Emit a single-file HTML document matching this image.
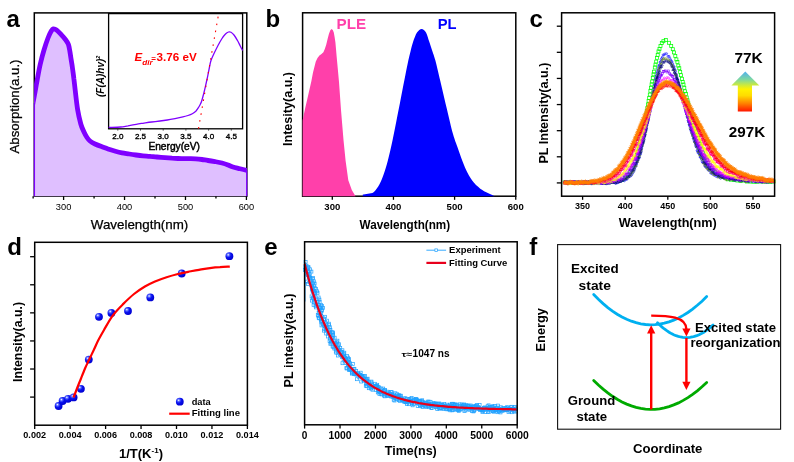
<!DOCTYPE html>
<html><head><meta charset="utf-8"><title>Figure</title><style>html,body{margin:0;padding:0;background:#fff}svg{display:block}</style></head><body>
<svg width="794" height="462" viewBox="0 0 794 462" font-family="&quot;Liberation Sans&quot;, sans-serif">
<rect width="794" height="462" fill="#fff"/>
<defs>
<linearGradient id="ag" x1="0" y1="0" x2="0" y2="1"><stop offset="0" stop-color="#50b0f0"/><stop offset="0.2" stop-color="#7fd8a0"/><stop offset="0.34" stop-color="#cdea3c"/><stop offset="0.44" stop-color="#fff200"/><stop offset="0.6" stop-color="#ffdc00"/><stop offset="0.8" stop-color="#ff8000"/><stop offset="1" stop-color="#ff1400"/></linearGradient>
<radialGradient id="ball" cx="0.35" cy="0.32" r="0.7"><stop offset="0" stop-color="#fff"/><stop offset="0.22" stop-color="#5a6cff"/><stop offset="0.5" stop-color="#0a12f0"/><stop offset="1" stop-color="#0000d0"/></radialGradient>
</defs>
<rect x="34.3" y="12.9" width="212.5" height="183.29999999999998" fill="none" stroke="#000" stroke-width="1.5"/>
<clipPath id="ca"><rect x="34.099999999999994" y="12.9" width="212.9" height="183.39999999999998"/></clipPath>
<g clip-path="url(#ca)"><path d="M30.5,116.0C31.1,112.7 33.2,101.8 34.3,96.0C35.4,90.2 36.0,86.3 37.0,81.0C38.0,75.7 39.1,69.2 40.3,64.0C41.5,58.8 42.7,54.3 44.0,50.0C45.3,45.7 46.8,41.1 48.0,38.0C49.2,34.9 50.1,33.0 51.0,31.5C51.9,30.0 52.2,29.1 53.2,28.9C54.2,28.7 55.5,29.2 56.8,30.2C58.1,31.1 59.8,33.1 61.2,34.6C62.6,36.1 64.0,37.6 65.2,39.2C66.4,40.8 67.5,42.2 68.3,44.2C69.1,46.2 69.4,48.8 69.9,51.5C70.4,54.2 70.8,57.6 71.3,60.5C71.8,63.4 72.2,65.9 72.6,69.0C73.0,72.1 73.5,75.3 73.9,79.0C74.4,82.7 74.7,85.8 75.3,91.0C75.9,96.2 76.8,104.5 77.7,110.0C78.6,115.5 79.8,120.3 80.8,124.0C81.8,127.7 83.0,129.8 84.0,132.0C85.0,134.2 86.0,136.0 87.0,137.5C88.0,139.0 88.7,139.9 90.0,141.0C91.3,142.1 93.1,143.1 95.0,144.0C96.9,144.9 99.3,145.8 101.5,146.6C103.7,147.4 105.7,148.2 108.0,149.0C110.3,149.8 113.1,150.6 115.4,151.2C117.7,151.8 119.7,152.3 122.0,152.8C124.3,153.3 127.0,153.6 129.3,154.0C131.6,154.4 133.7,154.7 136.0,155.0C138.3,155.3 140.7,155.6 143.0,155.8C145.3,156.0 147.7,156.1 150.0,156.3C152.3,156.5 154.5,156.8 157.0,157.0C159.5,157.2 162.5,157.4 165.0,157.6C167.5,157.8 169.8,158.0 172.0,158.2C174.2,158.3 175.7,158.4 178.0,158.5C180.3,158.6 183.1,158.5 186.0,158.6C188.9,158.7 193.0,158.7 195.7,158.8C198.4,159.0 199.9,159.2 202.0,159.5C204.1,159.8 205.8,160.2 208.0,160.5C210.2,160.8 212.7,161.2 215.0,161.6C217.3,162.0 219.8,162.4 222.0,163.0C224.2,163.6 226.2,164.3 228.0,165.0C229.8,165.7 231.0,166.4 233.0,167.0C235.0,167.6 237.7,168.2 240.0,168.8C242.3,169.4 245.7,170.1 246.8,170.3 L247.8,197.2 L30.299999999999997,197.2 Z" fill="#dfbfff"/>
<path d="M30.5,116.0C31.1,112.7 33.2,101.8 34.3,96.0C35.4,90.2 36.0,86.3 37.0,81.0C38.0,75.7 39.1,69.2 40.3,64.0C41.5,58.8 42.7,54.3 44.0,50.0C45.3,45.7 46.8,41.1 48.0,38.0C49.2,34.9 50.1,33.0 51.0,31.5C51.9,30.0 52.2,29.1 53.2,28.9C54.2,28.7 55.5,29.2 56.8,30.2C58.1,31.1 59.8,33.1 61.2,34.6C62.6,36.1 64.0,37.6 65.2,39.2C66.4,40.8 67.5,42.2 68.3,44.2C69.1,46.2 69.4,48.8 69.9,51.5C70.4,54.2 70.8,57.6 71.3,60.5C71.8,63.4 72.2,65.9 72.6,69.0C73.0,72.1 73.5,75.3 73.9,79.0C74.4,82.7 74.7,85.8 75.3,91.0C75.9,96.2 76.8,104.5 77.7,110.0C78.6,115.5 79.8,120.3 80.8,124.0C81.8,127.7 83.0,129.8 84.0,132.0C85.0,134.2 86.0,136.0 87.0,137.5C88.0,139.0 88.7,139.9 90.0,141.0C91.3,142.1 93.1,143.1 95.0,144.0C96.9,144.9 99.3,145.8 101.5,146.6C103.7,147.4 105.7,148.2 108.0,149.0C110.3,149.8 113.1,150.6 115.4,151.2C117.7,151.8 119.7,152.3 122.0,152.8C124.3,153.3 127.0,153.6 129.3,154.0C131.6,154.4 133.7,154.7 136.0,155.0C138.3,155.3 140.7,155.6 143.0,155.8C145.3,156.0 147.7,156.1 150.0,156.3C152.3,156.5 154.5,156.8 157.0,157.0C159.5,157.2 162.5,157.4 165.0,157.6C167.5,157.8 169.8,158.0 172.0,158.2C174.2,158.3 175.7,158.4 178.0,158.5C180.3,158.6 183.1,158.5 186.0,158.6C188.9,158.7 193.0,158.7 195.7,158.8C198.4,159.0 199.9,159.2 202.0,159.5C204.1,159.8 205.8,160.2 208.0,160.5C210.2,160.8 212.7,161.2 215.0,161.6C217.3,162.0 219.8,162.4 222.0,163.0C224.2,163.6 226.2,164.3 228.0,165.0C229.8,165.7 231.0,166.4 233.0,167.0C235.0,167.6 237.7,168.2 240.0,168.8C242.3,169.4 245.7,170.1 246.8,170.3" fill="none" stroke="#7f00ff" stroke-width="4.8" stroke-linejoin="round"/></g>
<line x1="34.4" y1="103" x2="34.4" y2="196.2" stroke="#7f00ff" stroke-width="1.3" />
<line x1="246.70000000000002" y1="170" x2="246.70000000000002" y2="196.2" stroke="#7f00ff" stroke-width="1.3" />
<line x1="33.129999999999995" y1="196.2" x2="33.129999999999995" y2="198.39999999999998" stroke="#000" stroke-width="1.3" />
<line x1="63.6" y1="196.2" x2="63.6" y2="200.0" stroke="#000" stroke-width="1.3" />
<text x="63.6" y="209.6" font-size="9.5" font-weight="normal" text-anchor="middle" fill="#000" textLength="15.5" lengthAdjust="spacingAndGlyphs" >300</text>
<line x1="94.07000000000001" y1="196.2" x2="94.07000000000001" y2="198.39999999999998" stroke="#000" stroke-width="1.3" />
<line x1="124.54" y1="196.2" x2="124.54" y2="200.0" stroke="#000" stroke-width="1.3" />
<text x="124.54" y="209.6" font-size="9.5" font-weight="normal" text-anchor="middle" fill="#000" textLength="15.5" lengthAdjust="spacingAndGlyphs" >400</text>
<line x1="155.01000000000002" y1="196.2" x2="155.01000000000002" y2="198.39999999999998" stroke="#000" stroke-width="1.3" />
<line x1="185.48000000000002" y1="196.2" x2="185.48000000000002" y2="200.0" stroke="#000" stroke-width="1.3" />
<text x="185.48000000000002" y="209.6" font-size="9.5" font-weight="normal" text-anchor="middle" fill="#000" textLength="15.5" lengthAdjust="spacingAndGlyphs" >500</text>
<line x1="215.95000000000002" y1="196.2" x2="215.95000000000002" y2="198.39999999999998" stroke="#000" stroke-width="1.3" />
<line x1="246.42000000000002" y1="196.2" x2="246.42000000000002" y2="200.0" stroke="#000" stroke-width="1.3" />
<text x="246.42000000000002" y="209.6" font-size="9.5" font-weight="normal" text-anchor="middle" fill="#000" textLength="15.5" lengthAdjust="spacingAndGlyphs" >600</text>
<text x="90.8" y="229" font-size="13" font-weight="normal" text-anchor="start" fill="#000" textLength="97.5" lengthAdjust="spacingAndGlyphs" stroke="#000" stroke-width="0.25">Wavelength(nm)</text>
<text x="18.8" y="153.5" font-size="12" font-weight="normal" text-anchor="start" fill="#000" textLength="94" lengthAdjust="spacingAndGlyphs" transform="rotate(-90 18.8 153.5)" stroke="#000" stroke-width="0.25">Absorption(a.u.)</text>
<text x="6.4" y="27" font-size="24" font-weight="bold" text-anchor="start" fill="#000" >a</text>
<rect x="108.6" y="13.6" width="134.0" height="115.20000000000002" fill="#fff" stroke="#000" stroke-width="1.3"/>
<path d="M108.6,127.4C110.6,127.3 117.4,127.3 120.6,127.0C123.8,126.7 125.4,126.2 128.0,125.8C130.6,125.3 133.5,124.8 136.2,124.3C138.9,123.8 141.4,123.5 144.0,123.1C146.6,122.7 149.0,122.3 151.7,122.0C154.4,121.7 157.4,121.3 160.0,121.0C162.6,120.7 164.8,120.4 167.3,120.0C169.8,119.6 172.4,119.1 175.0,118.6C177.6,118.1 180.7,117.4 182.9,116.9C185.1,116.4 186.4,116.0 188.0,115.5C189.6,115.0 191.0,114.5 192.3,113.8C193.6,113.1 194.8,112.3 195.8,111.3C196.8,110.2 197.8,108.6 198.5,107.5C199.2,106.4 199.7,105.5 200.2,104.5C200.7,103.5 201.1,102.8 201.6,101.3C202.1,99.8 202.7,97.5 203.2,95.5C203.7,93.5 204.2,91.8 204.7,89.6C205.2,87.4 205.8,84.8 206.3,82.5C206.8,80.2 207.3,78.1 207.8,75.6C208.3,73.1 208.9,70.0 209.4,67.5C209.9,65.0 210.2,62.8 211.0,60.5C211.8,58.2 212.8,56.0 214.0,53.5C215.2,51.0 216.7,48.0 218.0,45.5C219.3,43.0 220.8,40.4 222.0,38.5C223.2,36.6 224.4,35.1 225.5,34.0C226.6,32.9 227.6,32.3 228.5,32.0C229.4,31.7 230.1,31.7 231.0,32.2C231.9,32.7 232.9,33.6 234.0,35.0C235.1,36.4 236.5,38.8 237.5,40.5C238.5,42.2 239.2,43.8 240.0,45.5C240.8,47.2 242.2,49.7 242.6,50.5" fill="none" stroke="#7f00ff" stroke-width="1.3"/>
<line x1="198.5" y1="128.6" x2="218.6" y2="14" stroke="#ff0000" stroke-width="1.1" stroke-dasharray="1.6 5.4"/>
<line x1="117.8" y1="128.8" x2="117.8" y2="130.60000000000002" stroke="#333" stroke-width="0.9" />
<text x="117.8" y="138.7" font-size="8" font-weight="normal" text-anchor="middle" fill="#000" textLength="11.2" lengthAdjust="spacingAndGlyphs" stroke="#000" stroke-width="0.35">2.0</text>
<line x1="140.5" y1="128.8" x2="140.5" y2="130.60000000000002" stroke="#333" stroke-width="0.9" />
<text x="140.5" y="138.7" font-size="8" font-weight="normal" text-anchor="middle" fill="#000" textLength="11.2" lengthAdjust="spacingAndGlyphs" stroke="#000" stroke-width="0.35">2.5</text>
<line x1="163.2" y1="128.8" x2="163.2" y2="130.60000000000002" stroke="#333" stroke-width="0.9" />
<text x="163.2" y="138.7" font-size="8" font-weight="normal" text-anchor="middle" fill="#000" textLength="11.2" lengthAdjust="spacingAndGlyphs" stroke="#000" stroke-width="0.35">3.0</text>
<line x1="185.89999999999998" y1="128.8" x2="185.89999999999998" y2="130.60000000000002" stroke="#333" stroke-width="0.9" />
<text x="185.89999999999998" y="138.7" font-size="8" font-weight="normal" text-anchor="middle" fill="#000" textLength="11.2" lengthAdjust="spacingAndGlyphs" stroke="#000" stroke-width="0.35">3.5</text>
<line x1="208.6" y1="128.8" x2="208.6" y2="130.60000000000002" stroke="#333" stroke-width="0.9" />
<text x="208.6" y="138.7" font-size="8" font-weight="normal" text-anchor="middle" fill="#000" textLength="11.2" lengthAdjust="spacingAndGlyphs" stroke="#000" stroke-width="0.35">4.0</text>
<line x1="231.3" y1="128.8" x2="231.3" y2="130.60000000000002" stroke="#333" stroke-width="0.9" />
<text x="231.3" y="138.7" font-size="8" font-weight="normal" text-anchor="middle" fill="#000" textLength="11.2" lengthAdjust="spacingAndGlyphs" stroke="#000" stroke-width="0.35">4.5</text>
<text x="148.4" y="149.6" font-size="10" font-weight="normal" text-anchor="start" fill="#000" textLength="51.5" lengthAdjust="spacingAndGlyphs" stroke="#000" stroke-width="0.45">Energy(eV)</text>
<text x="103.6" y="97" font-size="10" font-weight="bold" text-anchor="start" fill="#000" transform="rotate(-90 103.6 97)" font-style="italic" >(F(A)hv)<tspan font-size="5.5" dy="-3.5">2</tspan></text>
<text x="134.6" y="61.4" font-size="11.5" font-weight="bold" fill="#ff0000"><tspan font-style="italic">E</tspan><tspan font-style="italic" font-size="6.5" dy="3.6" textLength="10.5" lengthAdjust="spacingAndGlyphs">dir</tspan><tspan dy="-3.6" dx="-1.5" font-size="8">=</tspan><tspan dx="0.6" textLength="40.2" lengthAdjust="spacingAndGlyphs">3.76 eV</tspan></text>
<rect x="302.6" y="12.8" width="213.19999999999993" height="183.39999999999998" fill="none" stroke="#000" stroke-width="1.5"/>
<polygon points="302.6,196.2 302.6,120.5 305.0,109.0 308.0,96.0 311.4,81.0 313.0,72.6 315.8,61.6 317.5,58.0 319.4,55.6 321.5,54.0 323.4,52.2 324.8,49.0 326.2,44.8 327.6,39.0 328.9,34.0 330.2,30.5 331.5,28.9 332.8,30.0 333.8,32.6 334.6,37.0 335.4,42.2 336.0,49.0 336.6,56.0 337.9,70.0 339.0,82.0 341.0,110.0 343.5,140.0 345.6,160.8 348.3,180.2 351.8,190.0 355.5,196.2" fill="#ff40aa"/>
<path d="M362.8,196.2 L362.8,194.5 C363.7,194.4 366.1,194.1 368.0,193.7C369.9,193.3 372.0,193.5 373.9,191.9C375.8,190.3 377.9,187.2 379.5,184.3C381.1,181.4 382.2,178.5 383.6,174.6C385.0,170.7 386.3,166.6 387.8,160.8C389.3,155.0 391.2,146.6 392.6,140.0C394.0,133.4 395.2,127.2 396.4,121.0C397.6,114.8 398.7,109.6 400.0,102.8C401.3,96.0 403.1,86.5 404.4,80.0C405.7,73.5 406.6,68.8 407.6,64.0C408.6,59.2 409.6,55.2 410.5,51.5C411.4,47.8 412.1,44.8 413.2,41.6C414.3,38.5 415.6,34.7 417.0,32.6C418.4,30.5 420.1,29.0 421.6,29.0C423.1,29.0 424.7,30.3 426.0,32.4C427.3,34.5 428.1,38.5 429.2,41.6C430.2,44.7 431.3,47.9 432.3,51.0C433.3,54.1 433.9,55.0 435.4,60.5C436.8,66.0 439.1,75.8 441.0,84.0C442.9,92.2 445.0,101.2 447.0,109.5C449.0,117.8 451.2,127.7 453.0,134.0C454.8,140.3 456.0,142.9 457.6,147.5C459.2,152.1 460.9,157.1 462.5,161.3C464.1,165.5 465.6,169.2 467.5,172.8C469.4,176.4 471.5,179.8 474.0,182.7C476.5,185.6 479.8,188.3 482.3,190.1C484.8,191.9 486.8,192.6 488.9,193.6C490.9,194.6 493.7,195.8 494.6,196.2 Z" fill="#0000ff"/>
<line x1="332.3" y1="196.2" x2="332.3" y2="199.79999999999998" stroke="#000" stroke-width="1.3" />
<text x="332.3" y="209.8" font-size="9.5" font-weight="bold" text-anchor="middle" fill="#000" textLength="16" lengthAdjust="spacingAndGlyphs" >300</text>
<line x1="393.45000000000005" y1="196.2" x2="393.45000000000005" y2="199.79999999999998" stroke="#000" stroke-width="1.3" />
<text x="393.45000000000005" y="209.8" font-size="9.5" font-weight="bold" text-anchor="middle" fill="#000" textLength="16" lengthAdjust="spacingAndGlyphs" >400</text>
<line x1="454.6" y1="196.2" x2="454.6" y2="199.79999999999998" stroke="#000" stroke-width="1.3" />
<text x="454.6" y="209.8" font-size="9.5" font-weight="bold" text-anchor="middle" fill="#000" textLength="16" lengthAdjust="spacingAndGlyphs" >500</text>
<line x1="515.75" y1="196.2" x2="515.75" y2="199.79999999999998" stroke="#000" stroke-width="1.3" />
<text x="515.75" y="209.8" font-size="9.5" font-weight="bold" text-anchor="middle" fill="#000" textLength="16" lengthAdjust="spacingAndGlyphs" >600</text>
<text x="359.6" y="228.8" font-size="12" font-weight="bold" text-anchor="start" fill="#000" textLength="90.5" lengthAdjust="spacingAndGlyphs" >Wavelength(nm)</text>
<text x="291.8" y="146" font-size="12" font-weight="bold" text-anchor="start" fill="#000" textLength="74" lengthAdjust="spacingAndGlyphs" transform="rotate(-90 291.8 146)" >Intesity(a.u.)</text>
<text x="265.5" y="27" font-size="24" font-weight="bold" text-anchor="start" fill="#000" >b</text>
<text x="336.6" y="29" font-size="15" font-weight="bold" text-anchor="start" fill="#ff40aa" textLength="29.6" lengthAdjust="spacingAndGlyphs" >PLE</text>
<text x="437.8" y="29" font-size="15" font-weight="bold" text-anchor="start" fill="#0000ff" textLength="18.8" lengthAdjust="spacingAndGlyphs" >PL</text>
<defs>
<marker id="sq3" markerWidth="5" markerHeight="5" refX="2.5" refY="2.5" markerUnits="userSpaceOnUse"><rect x="1" y="1" width="3" height="3" fill="none" stroke="context-stroke" stroke-width="0.75"/></marker>
<marker id="sq" markerWidth="4" markerHeight="4" refX="2" refY="2" markerUnits="userSpaceOnUse"><rect x="1.1" y="1.1" width="1.8" height="1.8" fill="none" stroke="context-stroke" stroke-width="0.55"/></marker>
<marker id="ci" markerWidth="4" markerHeight="4" refX="2" refY="2" markerUnits="userSpaceOnUse"><circle cx="2" cy="2" r="1" fill="none" stroke="context-stroke" stroke-width="0.55"/></marker>
<marker id="tr" markerWidth="4" markerHeight="4" refX="2" refY="2" markerUnits="userSpaceOnUse"><path d="M2,0.9 L3.1,3 L0.9,3 Z" fill="none" stroke="context-stroke" stroke-width="0.55"/></marker>
<marker id="tr2" markerWidth="6" markerHeight="6" refX="3" refY="3" markerUnits="userSpaceOnUse"><path d="M3,0.8 L3,5.2 M1.1,1.9 L4.9,4.1 M4.9,1.9 L1.1,4.1" fill="none" stroke="context-stroke" stroke-width="0.6"/></marker>
<marker id="esq" markerWidth="5" markerHeight="5" refX="2.5" refY="2.5" markerUnits="userSpaceOnUse"><rect x="1" y="1" width="3" height="3" fill="none" stroke="context-stroke" stroke-width="0.7"/></marker>
</defs>
<polyline points="564.6,182.4 568.0,182.3 571.4,182.8 574.8,182.2 578.2,182.6 581.6,182.5 585.0,182.2 588.4,182.6 591.8,182.1 595.2,182.5 598.6,182.2 602.0,182.2 605.4,182.4 608.8,182.7 612.2,181.8 615.6,181.4 618.9,181.0 622.2,179.9 625.1,177.5 627.7,174.6 629.8,172.2 631.7,168.0 633.2,165.6 634.6,161.7 635.8,158.2 636.9,154.8 637.9,151.6 638.8,148.7 639.7,144.7 640.5,141.7 641.3,138.4 642.1,134.7 642.8,131.5 643.5,127.6 644.2,124.3 644.9,121.0 645.5,118.1 646.1,114.5 646.8,111.0 647.4,107.9 648.0,104.4 648.6,100.9 649.2,98.1 649.8,94.6 650.4,90.8 651.0,87.8 651.6,84.4 652.2,81.5 652.8,78.0 653.5,74.3 654.1,71.7 654.8,67.5 655.5,64.6 656.2,61.6 656.9,57.8 657.7,55.0 658.5,51.4 659.5,48.9 660.5,46.1 661.8,43.1 663.4,41.2 665.8,39.9 669.1,42.8 671.2,46.0 672.8,49.2 674.1,52.4 675.3,56.0 676.4,59.4 677.4,62.1 678.3,65.6 679.3,68.2 680.2,72.1 681.0,75.2 681.9,78.8 682.7,81.9 683.5,84.5 684.3,87.8 685.1,91.3 685.9,93.8 686.7,97.5 687.5,100.3 688.3,103.5 689.1,106.5 689.9,110.4 690.7,112.9 691.5,116.1 692.3,119.4 693.2,122.9 694.0,125.2 694.9,128.7 695.8,131.8 696.7,135.2 697.7,138.1 698.6,141.1 699.7,143.5 700.7,146.5 701.8,149.3 703.0,152.7 704.2,155.5 705.5,157.4 706.8,160.1 708.3,162.7 709.9,165.2 711.6,167.7 713.4,170.1 715.4,171.8 717.5,173.3 719.9,175.4 722.4,176.7 725.2,178.0 728.0,179.3 731.0,179.7 734.1,180.1 737.3,180.5 740.5,180.9 743.7,180.5 747.0,181.5 750.2,181.6 753.5,181.8 756.8,181.8 760.2,181.5 763.5,181.6 766.8,181.4 770.2,182.0 773.5,181.6" fill="none" style="stroke:#00ff00;stroke-opacity:0" marker-start="url(#sq3)" marker-mid="url(#sq3)" marker-end="url(#sq3)"/>
<polyline points="564.6,181.6 566.1,182.0 567.6,181.9 569.1,182.2 570.6,181.6 572.1,181.5 573.6,181.8 575.1,181.7 576.6,182.3 578.1,181.6 579.6,183.4 581.1,182.9 582.6,181.8 584.1,182.1 585.6,182.3 587.1,182.3 588.6,181.8 590.1,183.4 591.6,183.7 593.1,182.5 594.6,182.6 596.1,181.7 597.6,181.7 599.1,182.2 600.6,182.1 602.1,183.3 603.6,181.8 605.1,181.5 606.6,183.6 608.1,182.6 609.6,181.7 611.1,182.6 612.6,181.4 614.1,182.4 615.6,183.3 617.1,182.9 618.6,182.3 620.1,181.1 621.5,181.0 623.0,180.1 624.4,180.8 625.7,179.6 627.0,179.3 628.3,177.3 629.4,176.0 630.4,176.2 631.4,175.3 632.3,173.8 633.1,172.3 633.9,171.0 634.6,169.5 635.3,166.9 635.9,166.2 636.5,164.4 637.1,162.3 637.6,160.8 638.1,159.9 638.6,158.4 639.1,157.9 639.6,157.1 640.0,154.5 640.4,154.1 640.9,152.7 641.3,151.2 641.6,148.4 642.0,146.6 642.4,145.2 642.8,143.6 643.1,142.2 643.5,141.6 643.8,140.8 644.1,139.2 644.5,136.9 644.8,135.8 645.1,134.6 645.4,131.6 645.7,131.4 646.0,130.5 646.3,128.7 646.6,127.1 646.9,125.1 647.2,122.9 647.5,122.8 647.8,120.3 648.1,119.9 648.4,118.8 648.7,116.0 648.9,114.6 649.2,114.3 649.5,112.3 649.8,109.6 650.1,108.0 650.3,106.6 650.6,106.8 650.9,105.1 651.2,102.2 651.4,102.2 651.7,101.1 652.0,98.9 652.3,96.7 652.5,95.7 652.8,93.3 653.1,91.6 653.4,92.2 653.7,90.1 654.0,88.3 654.2,87.8 654.5,85.2 654.8,84.7 655.1,83.1 655.4,80.3 655.7,79.0 656.1,77.6 656.4,76.0 656.7,75.3 657.0,73.2 657.4,72.1 657.7,70.0 658.1,70.3 658.5,67.7 658.9,66.5 659.3,65.3 659.7,64.7 660.1,62.2 660.6,61.9 661.1,59.7 661.7,58.5 662.3,57.2 663.1,54.9 664.0,54.9 665.1,53.8 666.6,53.7 668.0,56.4 669.0,56.3 669.9,58.2 670.7,60.1 671.4,61.1 672.0,61.9 672.6,63.7 673.1,65.2 673.7,67.0 674.2,66.9 674.6,69.3 675.1,70.0 675.6,71.4 676.0,73.9 676.4,74.7 676.8,76.2 677.2,78.0 677.6,79.8 678.0,80.1 678.4,81.9 678.8,83.0 679.1,84.4 679.5,86.2 679.9,87.0 680.2,88.6 680.6,89.9 680.9,92.3 681.3,93.1 681.6,94.9 682.0,96.4 682.3,96.2 682.7,98.3 683.0,100.5 683.3,101.6 683.7,101.4 684.0,102.8 684.4,104.8 684.7,105.4 685.0,107.1 685.4,108.1 685.7,110.8 686.0,112.4 686.4,114.0 686.7,113.7 687.1,116.3 687.4,117.5 687.8,117.7 688.1,120.6 688.5,122.2 688.8,121.9 689.2,124.8 689.5,124.9 689.9,126.4 690.2,128.8 690.6,129.8 691.0,129.6 691.3,131.5 691.7,133.0 692.1,133.9 692.5,134.9 692.9,136.4 693.3,138.6 693.7,138.3 694.1,140.8 694.5,141.8 694.9,142.1 695.3,144.0 695.7,145.9 696.2,146.9 696.6,147.1 697.1,150.4 697.5,151.2 698.0,152.8 698.5,152.0 699.0,153.6 699.5,154.2 700.0,157.0 700.5,157.0 701.1,157.8 701.6,159.6 702.2,161.7 702.8,162.6 703.4,162.4 704.0,163.2 704.7,165.9 705.3,166.1 706.0,167.3 706.7,166.9 707.4,167.8 708.2,170.0 709.0,170.3 709.8,170.3 710.6,173.0 711.5,173.0 712.4,174.1 713.3,173.1 714.3,175.4 715.3,174.2 716.3,176.5 717.4,176.1 718.4,176.3 719.5,177.1 720.6,178.3 721.8,177.2 723.0,177.1 724.1,178.3 725.3,177.9 726.5,177.8 727.8,178.1 729.0,178.0 730.3,178.5 731.5,178.9 732.8,179.0 734.0,180.1 735.3,179.2 736.6,179.8 737.9,179.2 739.2,179.6 740.5,179.0 741.8,179.6 743.1,179.2 744.4,180.8 745.8,180.5 747.1,179.8 748.4,180.5 749.8,181.6 751.1,179.8 752.5,181.5 753.8,180.7 755.2,180.9 756.6,181.7 758.0,180.8 759.3,181.1 760.7,181.6 762.1,182.3 763.5,181.0 764.9,182.1 766.3,181.9 767.8,181.8 769.2,181.3 770.6,181.2 772.0,180.6 773.5,180.9" fill="none" style="stroke:#0000ff;stroke-opacity:0" marker-start="url(#ci)" marker-mid="url(#ci)" marker-end="url(#ci)"/>
<polyline points="564.6,181.7 566.4,183.1 568.2,182.1 570.0,181.9 571.8,181.7 573.6,183.4 575.4,183.4 577.2,183.0 579.0,182.1 580.8,182.0 582.6,182.1 584.4,182.5 586.2,181.8 588.0,182.5 589.8,182.1 591.6,183.6 593.4,183.6 595.2,182.7 597.0,182.0 598.8,183.6 600.6,182.2 602.4,182.3 604.2,181.5 606.0,182.3 607.8,182.5 609.6,182.5 611.4,181.8 613.2,182.3 615.0,181.1 616.8,181.4 618.6,180.8 620.3,181.0 622.1,179.7 623.8,179.0 625.4,178.7 626.9,177.5 628.3,177.0 629.6,175.5 630.8,174.5 631.9,172.8 632.9,171.3 633.8,170.1 634.7,167.3 635.4,165.5 636.2,165.2 636.9,161.7 637.5,161.2 638.1,159.3 638.7,156.2 639.3,156.2 639.8,154.6 640.4,152.3 640.9,150.7 641.4,149.2 641.8,145.9 642.3,145.0 642.7,143.2 643.2,142.1 643.6,140.3 644.0,138.6 644.4,136.3 644.8,135.2 645.2,133.0 645.6,131.2 646.0,128.4 646.4,126.2 646.8,124.7 647.1,123.4 647.5,121.1 647.9,120.9 648.2,118.5 648.6,116.9 648.9,115.1 649.3,113.5 649.6,111.3 650.0,108.5 650.4,108.4 650.7,106.6 651.1,104.3 651.4,102.6 651.8,101.1 652.1,98.0 652.5,97.7 652.8,94.9 653.2,92.8 653.5,91.4 653.9,90.7 654.3,87.8 654.6,87.2 655.0,86.0 655.4,83.2 655.8,81.2 656.2,79.7 656.6,78.4 657.0,76.9 657.5,74.8 657.9,73.2 658.4,70.2 658.9,68.7 659.4,67.3 660.0,66.7 660.6,64.1 661.2,63.1 661.9,60.4 662.8,59.1 663.8,58.3 665.1,58.4 666.8,58.7 668.5,59.8 669.7,60.5 670.8,62.5 671.7,64.0 672.5,65.7 673.2,66.5 673.9,69.9 674.5,70.0 675.1,73.4 675.7,74.9 676.3,74.6 676.8,77.2 677.3,79.7 677.8,81.6 678.3,82.2 678.8,83.4 679.3,85.0 679.8,88.2 680.2,88.3 680.7,90.7 681.1,91.4 681.6,93.9 682.0,96.5 682.4,96.3 682.9,99.5 683.3,100.5 683.7,102.9 684.2,104.2 684.6,104.8 685.0,107.8 685.5,108.6 685.9,109.2 686.3,110.8 686.7,113.4 687.2,115.0 687.6,116.3 688.0,117.5 688.5,119.6 688.9,121.1 689.4,123.8 689.8,123.6 690.2,126.8 690.7,128.6 691.1,128.6 691.6,131.9 692.1,133.0 692.5,135.0 693.0,135.2 693.5,136.9 694.0,138.5 694.5,141.3 695.0,142.0 695.5,143.0 696.1,144.6 696.6,145.8 697.1,146.7 697.7,148.3 698.3,151.4 698.9,151.6 699.5,154.4 700.1,154.3 700.7,155.7 701.4,157.6 702.0,158.3 702.7,160.0 703.4,162.6 704.2,163.7 705.0,164.8 705.8,165.6 706.6,167.4 707.4,168.6 708.3,168.8 709.3,170.2 710.2,169.7 711.3,172.2 712.3,172.5 713.4,174.0 714.5,174.5 715.7,174.4 717.0,174.6 718.2,177.1 719.5,175.9 720.9,177.1 722.3,177.2 723.7,177.5 725.1,178.8 726.6,179.6 728.1,178.3 729.6,179.4 731.1,178.8 732.6,179.5 734.2,179.3 735.7,179.0 737.3,179.1 738.9,179.3 740.5,181.0 742.1,180.2 743.7,179.7 745.3,181.3 746.9,181.6 748.5,180.5 750.2,179.9 751.8,180.1 753.5,180.0 755.1,180.6 756.8,180.1 758.5,180.5 760.1,180.7 761.8,181.4 763.5,182.2 765.2,181.9 766.9,181.3 768.6,181.3 770.4,181.6 772.1,181.4 773.8,181.3" fill="none" style="stroke:#6b8e23;stroke-opacity:0" marker-start="url(#tr)" marker-mid="url(#tr)" marker-end="url(#tr)"/>
<polyline points="564.6,181.6 566.2,182.1 567.8,183.6 569.4,181.8 571.0,182.6 572.6,182.9 574.2,183.4 575.8,182.0 577.4,182.1 579.0,182.0 580.6,182.4 582.2,182.5 583.8,183.6 585.4,183.4 587.0,183.4 588.6,181.5 590.2,181.6 591.8,183.1 593.4,183.5 595.0,182.5 596.6,182.8 598.2,181.5 599.8,182.3 601.4,183.5 603.0,183.3 604.6,183.3 606.2,183.6 607.8,181.9 609.4,181.6 611.0,181.6 612.6,182.3 614.2,182.5 615.8,182.9 617.4,182.2 618.9,181.7 620.5,181.5 622.0,180.3 623.5,179.8 624.9,177.8 626.3,178.5 627.5,176.2 628.7,176.6 629.8,174.7 630.8,172.7 631.7,170.9 632.6,169.8 633.4,169.2 634.2,167.8 634.9,165.1 635.6,163.5 636.2,163.0 636.8,161.6 637.4,159.6 638.0,157.7 638.5,157.0 639.0,154.2 639.5,153.3 640.0,152.1 640.5,151.6 640.9,149.3 641.4,148.3 641.8,145.9 642.2,143.8 642.6,142.2 643.0,142.2 643.4,140.1 643.8,137.7 644.2,135.5 644.6,134.9 645.0,133.8 645.3,131.6 645.7,129.7 646.0,129.0 646.4,128.0 646.7,124.9 647.1,122.9 647.4,122.0 647.8,120.7 648.1,119.7 648.4,117.0 648.8,116.8 649.1,115.1 649.4,113.0 649.8,110.8 650.1,110.9 650.4,107.9 650.7,107.4 651.1,104.6 651.4,103.0 651.7,102.6 652.1,100.0 652.4,99.9 652.7,97.3 653.1,95.1 653.4,93.6 653.8,92.5 654.1,91.5 654.5,90.6 654.8,87.3 655.2,86.2 655.5,84.3 655.9,84.4 656.3,81.1 656.7,79.3 657.1,77.8 657.5,77.1 657.9,76.6 658.4,75.1 658.8,73.3 659.3,72.4 659.8,70.8 660.3,68.0 660.9,66.2 661.5,66.5 662.2,64.8 663.0,61.9 663.9,62.2 665.1,60.9 666.6,60.8 668.2,61.5 669.4,62.3 670.5,63.2 671.4,65.2 672.2,66.7 672.9,69.5 673.6,69.0 674.2,72.3 674.8,72.1 675.4,73.9 676.0,76.3 676.5,77.8 677.0,78.4 677.5,79.0 678.0,81.4 678.5,82.6 678.9,85.3 679.4,85.1 679.8,86.9 680.3,89.6 680.7,89.1 681.1,91.4 681.5,93.7 681.9,95.1 682.4,94.9 682.8,96.3 683.2,97.8 683.6,101.2 684.0,101.2 684.4,103.7 684.8,105.4 685.2,105.6 685.6,106.9 686.0,109.8 686.4,110.5 686.8,111.2 687.2,113.6 687.6,114.1 688.0,115.4 688.4,116.2 688.8,119.3 689.2,121.1 689.6,121.8 690.0,123.9 690.4,123.3 690.8,125.1 691.2,127.0 691.6,129.5 692.0,130.9 692.5,131.0 692.9,132.0 693.3,133.8 693.8,135.3 694.2,137.6 694.6,137.3 695.1,140.0 695.6,141.2 696.0,142.7 696.5,143.9 697.0,144.8 697.5,145.5 698.0,146.7 698.5,148.1 699.0,150.3 699.5,150.0 700.0,151.5 700.6,153.9 701.2,154.0 701.7,154.8 702.3,155.9 702.9,158.2 703.5,158.9 704.2,161.4 704.8,162.3 705.5,163.6 706.2,163.1 706.9,163.8 707.6,164.8 708.4,166.7 709.2,168.1 710.0,168.4 710.8,168.8 711.7,170.1 712.6,171.3 713.5,172.2 714.4,173.1 715.4,174.0 716.4,174.3 717.5,173.7 718.6,175.8 719.7,175.1 720.8,176.2 722.0,176.2 723.1,177.4 724.4,176.5 725.6,177.0 726.8,177.2 728.1,177.3 729.4,179.1 730.7,178.7 732.0,178.3 733.3,178.7 734.7,180.1 736.0,179.2 737.4,178.7 738.7,180.1 740.1,179.9 741.5,180.8 742.9,178.9 744.2,179.9 745.7,180.7 747.1,180.9 748.5,181.1 749.9,179.3 751.3,180.0 752.8,179.7 754.2,179.9 755.7,181.7 757.1,180.9 758.6,181.8 760.0,180.6 761.5,181.8 763.0,181.0 764.5,180.6 766.0,181.8 767.5,182.3 769.0,180.5 770.5,181.6 772.0,181.7 773.6,180.9" fill="none" style="stroke:#000080;stroke-opacity:0" marker-start="url(#tr)" marker-mid="url(#tr)" marker-end="url(#tr)"/>
<polyline points="564.6,182.3 566.0,181.8 567.4,181.9 568.8,182.1 570.2,182.8 571.6,182.9 573.0,181.9 574.4,181.5 575.8,182.2 577.2,183.0 578.6,181.9 580.0,182.2 581.4,181.9 582.8,183.2 584.2,182.7 585.6,181.6 587.0,181.7 588.4,182.4 589.8,182.7 591.2,182.9 592.6,181.7 594.0,181.8 595.4,183.0 596.8,182.4 598.2,182.1 599.6,182.1 601.0,183.5 602.4,182.1 603.8,182.6 605.2,182.1 606.6,182.2 608.0,183.1 609.4,183.3 610.8,181.7 612.2,181.2 613.6,182.1 614.9,180.7 616.3,180.0 617.7,181.5 619.0,180.0 620.3,180.3 621.6,178.7 622.8,179.0 624.0,177.3 625.1,175.7 626.1,174.4 627.1,174.6 628.1,173.7 629.0,173.1 629.8,170.1 630.6,170.1 631.3,168.3 632.1,167.4 632.7,165.4 633.4,164.4 634.0,163.6 634.6,163.2 635.2,160.1 635.8,159.6 636.3,159.0 636.8,158.1 637.3,155.0 637.8,153.5 638.3,154.0 638.8,152.7 639.2,150.3 639.7,148.0 640.1,148.6 640.5,146.1 640.9,145.9 641.3,143.9 641.7,143.0 642.1,140.2 642.5,140.2 642.9,137.6 643.3,136.6 643.7,136.2 644.0,134.8 644.4,132.1 644.8,130.8 645.1,129.8 645.5,128.7 645.8,127.1 646.2,125.1 646.5,124.0 646.9,123.7 647.2,122.8 647.6,119.5 647.9,119.3 648.3,118.4 648.6,115.4 649.0,115.8 649.3,112.9 649.6,112.6 650.0,111.1 650.3,109.9 650.7,107.9 651.0,106.8 651.4,105.8 651.7,104.1 652.1,103.2 652.4,101.4 652.8,100.1 653.1,97.8 653.5,97.8 653.8,96.1 654.2,94.2 654.6,94.1 655.0,92.8 655.4,90.7 655.8,88.8 656.2,88.1 656.6,86.0 657.0,84.7 657.5,84.1 657.9,82.1 658.4,81.5 658.9,80.4 659.4,78.1 659.9,78.2 660.5,75.7 661.1,76.0 661.8,74.9 662.6,73.3 663.4,71.3 664.4,71.5 665.6,70.8 667.0,72.1 668.4,70.9 669.5,73.3 670.6,74.7 671.5,75.2 672.3,76.5 673.0,76.3 673.7,79.2 674.4,79.4 675.0,81.6 675.6,82.7 676.1,82.3 676.7,84.9 677.2,86.5 677.7,85.8 678.2,87.7 678.7,89.8 679.1,89.7 679.6,92.6 680.0,92.4 680.5,94.9 680.9,94.6 681.3,96.7 681.8,98.8 682.2,98.5 682.6,99.9 683.0,101.6 683.4,102.5 683.8,103.1 684.2,104.6 684.6,105.8 685.0,108.8 685.4,109.4 685.8,111.1 686.2,110.8 686.6,113.3 687.0,113.1 687.4,115.2 687.8,116.7 688.2,117.3 688.6,119.6 689.0,120.1 689.4,121.4 689.8,123.3 690.1,122.8 690.5,125.9 690.9,126.3 691.3,127.0 691.7,129.1 692.1,129.1 692.6,131.9 693.0,132.1 693.4,132.8 693.8,134.9 694.2,135.3 694.6,135.9 695.1,138.3 695.5,137.9 695.9,140.8 696.4,140.7 696.8,142.7 697.3,144.5 697.7,144.8 698.2,146.1 698.6,146.4 699.1,146.8 699.6,148.0 700.1,149.3 700.6,151.4 701.1,152.1 701.6,153.3 702.1,155.2 702.6,154.5 703.2,155.8 703.7,157.7 704.3,157.3 704.9,158.3 705.5,160.0 706.1,160.4 706.7,161.9 707.3,162.5 708.0,164.2 708.6,165.1 709.3,165.1 710.0,166.9 710.7,167.3 711.5,167.4 712.2,169.9 713.0,169.1 713.8,169.6 714.6,170.2 715.5,172.0 716.3,173.2 717.2,173.6 718.1,173.3 719.0,173.5 720.0,173.5 721.0,175.3 722.0,175.6 723.0,175.5 724.0,176.5 725.1,176.5 726.1,177.9 727.2,177.7 728.3,176.9 729.4,178.6 730.6,176.9 731.7,178.2 732.8,178.2 734.0,178.0 735.2,177.7 736.4,179.5 737.5,177.9 738.7,179.3 739.9,180.3 741.1,178.6 742.4,178.9 743.6,179.9 744.8,179.8 746.0,180.2 747.3,180.6 748.5,179.3 749.8,179.7 751.0,179.8 752.3,179.3 753.6,181.2 754.8,181.1 756.1,181.0 757.4,179.5 758.7,181.5 760.0,181.3 761.3,180.8 762.6,181.5 763.9,180.9 765.2,180.5 766.5,180.3 767.8,180.6 769.2,180.2 770.5,181.0 771.8,181.9 773.2,181.9" fill="none" style="stroke:#8000ff;stroke-opacity:0" marker-start="url(#sq)" marker-mid="url(#sq)" marker-end="url(#sq)"/>
<polyline points="564.6,183.4 566.1,183.1 567.6,182.1 569.1,182.7 570.6,182.5 572.1,183.2 573.6,182.7 575.1,182.1 576.6,182.9 578.1,183.6 579.6,182.0 581.1,183.4 582.6,181.5 584.1,182.1 585.6,182.0 587.1,183.1 588.6,183.6 590.1,183.1 591.6,182.2 593.1,183.4 594.6,182.2 596.1,181.9 597.6,183.4 599.1,182.7 600.6,182.8 602.1,182.7 603.6,183.3 605.1,182.1 606.6,182.8 608.1,182.3 609.6,182.4 611.0,181.2 612.5,181.5 614.0,180.8 615.4,179.8 616.8,179.0 618.2,179.3 619.5,177.3 620.8,178.3 622.1,175.7 623.3,174.5 624.4,173.6 625.4,174.3 626.4,171.9 627.4,170.2 628.3,168.7 629.2,167.5 630.0,167.6 630.8,166.2 631.5,165.0 632.3,163.7 632.9,160.9 633.6,160.6 634.2,158.8 634.9,158.4 635.5,157.0 636.1,155.7 636.6,152.5 637.2,152.8 637.7,151.5 638.2,150.2 638.8,146.9 639.3,145.7 639.8,144.1 640.3,142.5 640.7,142.8 641.2,141.3 641.7,139.5 642.1,138.5 642.6,136.6 643.0,134.4 643.5,132.5 643.9,131.1 644.3,131.1 644.8,128.4 645.2,127.3 645.6,126.0 646.1,123.7 646.5,122.8 646.9,121.4 647.3,120.9 647.7,118.7 648.2,117.2 648.6,117.1 649.0,114.7 649.4,114.0 649.9,112.1 650.3,109.4 650.7,108.8 651.1,107.4 651.6,106.7 652.0,104.3 652.5,103.7 652.9,101.9 653.4,99.8 653.8,99.8 654.3,96.7 654.8,96.9 655.3,94.1 655.8,92.3 656.3,91.3 656.8,91.2 657.4,90.3 657.9,86.8 658.5,86.6 659.2,85.3 659.8,84.6 660.6,82.0 661.3,81.5 662.2,80.1 663.2,80.1 664.3,78.0 665.6,79.0 667.0,77.6 668.5,77.9 669.9,79.8 671.0,80.3 672.1,80.6 673.0,82.9 673.9,82.8 674.7,85.6 675.5,86.6 676.2,88.1 676.9,89.0 677.5,89.7 678.1,91.0 678.8,92.3 679.3,94.7 679.9,94.2 680.5,97.2 681.0,96.6 681.6,98.3 682.1,99.7 682.6,102.4 683.1,102.8 683.6,103.8 684.1,106.2 684.6,106.1 685.1,107.9 685.6,109.3 686.1,111.1 686.6,112.4 687.0,113.4 687.5,114.0 688.0,115.2 688.5,116.1 688.9,118.9 689.4,119.8 689.9,121.2 690.3,121.2 690.8,123.1 691.3,125.0 691.8,125.9 692.2,126.1 692.7,128.1 693.2,130.2 693.7,130.0 694.1,131.2 694.6,132.6 695.1,134.7 695.6,136.2 696.1,135.9 696.6,137.1 697.1,138.5 697.6,139.9 698.1,141.5 698.6,141.9 699.2,143.4 699.7,144.2 700.2,147.1 700.8,147.7 701.3,147.5 701.9,150.5 702.5,149.7 703.0,151.4 703.6,153.8 704.2,154.5 704.8,155.4 705.4,155.8 706.1,156.3 706.7,158.3 707.4,158.1 708.0,159.3 708.7,160.7 709.4,160.8 710.1,162.6 710.9,164.3 711.6,165.0 712.4,165.5 713.2,166.6 714.0,167.0 714.8,167.1 715.6,168.9 716.5,169.2 717.4,170.7 718.3,171.7 719.2,171.3 720.1,172.2 721.1,173.2 722.1,173.0 723.1,173.1 724.2,174.7 725.2,175.5 726.3,175.7 727.4,176.0 728.5,176.7 729.7,176.7 730.8,176.9 732.0,176.8 733.2,176.8 734.4,177.7 735.6,176.8 736.8,177.7 738.1,178.8 739.3,178.8 740.6,178.8 741.8,178.1 743.1,178.7 744.4,178.9 745.7,179.4 747.0,179.1 748.3,179.8 749.6,180.5 751.0,179.0 752.3,180.1 753.7,180.5 755.0,179.8 756.4,180.1 757.7,181.3 759.1,179.3 760.5,180.5 761.8,179.8 763.2,181.2 764.6,181.7 766.0,180.8 767.4,180.0 768.8,181.1 770.3,181.1 771.7,181.6 773.1,181.2" fill="none" style="stroke:#ff00ff;stroke-opacity:0" marker-start="url(#ci)" marker-mid="url(#ci)" marker-end="url(#ci)"/>
<polyline points="564.6,182.9 565.9,183.3 567.2,182.6 568.5,182.4 569.8,183.6 571.1,182.0 572.4,183.0 573.7,182.4 575.0,183.2 576.3,181.8 577.6,183.7 578.9,182.3 580.2,181.6 581.5,182.1 582.8,182.4 584.1,181.5 585.4,182.4 586.7,182.4 588.0,183.0 589.3,182.2 590.6,182.0 591.9,181.9 593.2,183.0 594.5,183.4 595.8,182.5 597.1,181.7 598.4,182.9 599.7,182.0 601.0,181.5 602.3,181.2 603.6,182.5 604.9,182.4 606.2,181.8 607.4,181.2 608.7,181.1 610.0,180.1 611.2,181.4 612.5,179.6 613.7,179.7 614.9,179.6 616.1,179.0 617.2,177.6 618.3,176.5 619.4,176.3 620.4,174.5 621.4,175.2 622.4,173.2 623.3,173.4 624.2,171.1 625.1,170.3 625.9,169.0 626.7,168.3 627.4,166.7 628.1,165.2 628.8,165.7 629.5,163.6 630.2,162.3 630.8,161.3 631.4,160.5 632.0,159.2 632.6,158.5 633.2,157.4 633.7,155.5 634.3,155.6 634.8,154.2 635.3,151.2 635.8,151.7 636.3,150.7 636.8,149.2 637.3,146.6 637.8,146.9 638.2,145.2 638.7,142.6 639.1,141.4 639.6,142.2 640.0,140.3 640.5,138.2 640.9,136.7 641.3,135.5 641.7,134.5 642.2,134.4 642.6,132.3 643.0,130.6 643.4,131.0 643.8,129.5 644.2,126.9 644.6,127.3 645.0,125.4 645.4,124.6 645.8,123.1 646.2,122.3 646.6,120.9 647.0,119.7 647.4,117.1 647.9,116.9 648.3,115.3 648.7,114.6 649.1,112.7 649.5,112.4 649.9,110.5 650.3,108.6 650.7,107.3 651.1,105.9 651.6,105.4 652.0,103.3 652.4,103.0 652.9,101.0 653.3,100.6 653.8,99.4 654.2,98.3 654.7,97.8 655.2,94.7 655.7,95.4 656.2,93.4 656.7,92.4 657.2,91.5 657.8,90.7 658.4,88.6 659.0,87.6 659.6,87.7 660.3,84.7 661.0,84.9 661.8,83.9 662.7,81.7 663.7,82.2 664.7,81.8 665.9,82.0 667.2,80.7 668.5,82.4 669.7,81.9 670.8,82.5 671.9,84.3 672.8,83.3 673.7,85.7 674.5,86.5 675.3,86.8 676.0,89.0 676.7,88.9 677.4,90.2 678.0,91.4 678.6,93.0 679.2,92.8 679.8,94.4 680.4,95.4 681.0,96.8 681.5,98.5 682.0,98.4 682.6,100.7 683.1,100.8 683.6,102.1 684.1,102.7 684.6,104.3 685.1,106.5 685.5,106.8 686.0,108.2 686.5,108.3 687.0,109.4 687.4,110.4 687.9,112.1 688.4,113.3 688.8,114.7 689.3,114.2 689.7,116.8 690.2,118.2 690.6,118.5 691.1,118.5 691.5,120.2 692.0,120.6 692.4,122.1 692.9,124.7 693.3,125.1 693.8,126.3 694.2,127.6 694.7,129.0 695.1,129.4 695.6,130.4 696.1,131.5 696.5,132.7 697.0,133.5 697.4,134.7 697.9,134.7 698.4,136.8 698.9,137.3 699.3,139.0 699.8,138.6 700.3,139.8 700.8,140.4 701.3,143.1 701.8,144.4 702.3,144.8 702.8,145.1 703.3,147.1 703.8,148.0 704.3,148.5 704.8,148.7 705.4,149.8 705.9,151.0 706.5,151.7 707.0,152.9 707.6,154.2 708.1,155.8 708.7,154.7 709.3,156.8 709.9,156.5 710.5,157.5 711.1,159.9 711.8,160.2 712.4,161.8 713.0,161.6 713.7,161.4 714.4,163.0 715.1,164.2 715.8,165.7 716.5,166.6 717.2,166.2 717.9,166.7 718.7,166.7 719.5,168.6 720.2,168.3 721.1,168.8 721.9,169.1 722.7,169.7 723.5,171.7 724.4,171.0 725.3,173.4 726.2,172.0 727.1,174.2 728.0,173.0 729.0,173.2 729.9,175.1 730.9,174.5 731.9,175.9 732.9,175.1 733.9,175.1 735.0,177.0 736.0,177.1 737.1,177.7 738.1,177.7 739.2,176.5 740.3,178.0 741.4,178.4 742.5,178.0 743.6,179.2 744.8,177.9 745.9,179.7 747.0,179.3 748.2,177.9 749.3,178.0 750.5,179.6 751.7,180.1 752.8,178.6 754.0,179.2 755.2,180.2 756.4,179.1 757.6,180.8 758.8,180.0 760.0,179.2 761.2,180.0 762.4,180.5 763.6,180.3 764.9,180.9 766.1,179.8 767.3,181.4 768.6,180.5 769.8,181.2 771.0,181.2 772.3,180.8 773.5,180.8" fill="none" style="stroke:#ffff00;stroke-opacity:0" marker-start="url(#tr)" marker-mid="url(#tr)" marker-end="url(#tr)"/>
<polyline points="564.6,183.2 566.1,183.6 567.6,183.2 569.1,182.7 570.6,182.1 572.1,181.6 573.6,183.6 575.1,183.0 576.6,183.3 578.1,182.2 579.6,182.8 581.1,183.6 582.6,183.3 584.1,182.7 585.6,182.1 587.1,182.3 588.6,183.3 590.1,182.1 591.6,182.7 593.1,182.4 594.6,183.0 596.1,182.7 597.6,181.4 599.1,180.6 600.6,181.0 602.0,181.1 603.5,181.2 605.0,181.3 606.4,181.1 607.9,178.8 609.3,180.0 610.7,179.3 612.1,178.8 613.4,177.4 614.7,175.9 615.9,176.3 617.1,175.3 618.3,174.1 619.4,173.5 620.5,171.2 621.5,169.5 622.5,169.3 623.5,168.7 624.4,166.1 625.3,166.1 626.1,165.2 626.9,162.4 627.7,161.9 628.5,160.8 629.2,159.0 630.0,157.1 630.7,155.8 631.4,155.6 632.0,154.3 632.7,152.2 633.3,150.0 633.9,150.2 634.6,148.7 635.2,146.2 635.7,145.5 636.3,144.8 636.9,143.4 637.5,141.2 638.0,139.7 638.6,138.5 639.1,136.3 639.7,134.9 640.2,133.4 640.7,133.2 641.3,131.0 641.8,130.0 642.3,128.3 642.8,127.1 643.3,124.9 643.8,123.3 644.4,123.9 644.9,121.2 645.4,119.2 645.9,118.9 646.4,117.8 646.9,115.1 647.5,114.6 648.0,112.7 648.5,111.6 649.0,109.2 649.6,107.8 650.1,108.5 650.6,106.8 651.2,104.6 651.8,103.4 652.3,101.4 652.9,101.2 653.5,99.0 654.1,98.8 654.7,97.1 655.4,95.9 656.0,94.9 656.7,92.0 657.4,90.2 658.2,89.4 659.0,88.1 659.8,86.7 660.7,85.5 661.7,85.6 662.8,85.3 664.0,83.6 665.3,84.2 666.7,83.9 668.2,82.2 669.7,83.9 671.1,84.1 672.3,84.3 673.5,87.1 674.5,86.6 675.5,88.3 676.5,89.6 677.4,91.4 678.2,92.0 679.0,92.5 679.8,93.8 680.5,94.4 681.3,97.3 682.0,98.6 682.7,98.1 683.3,98.9 684.0,100.6 684.6,102.1 685.3,104.5 685.9,105.7 686.5,106.8 687.1,106.3 687.7,109.1 688.3,110.2 688.9,111.3 689.5,113.2 690.1,112.4 690.7,113.8 691.2,116.4 691.8,118.0 692.4,118.6 692.9,119.0 693.5,120.9 694.1,122.4 694.6,122.2 695.2,123.9 695.8,124.9 696.3,125.8 696.9,127.8 697.4,128.3 698.0,129.6 698.6,130.6 699.2,132.9 699.7,132.6 700.3,135.3 700.9,135.4 701.5,136.2 702.1,139.3 702.7,138.8 703.3,141.5 703.9,142.5 704.5,143.7 705.1,143.1 705.7,144.9 706.3,145.2 707.0,148.1 707.6,149.0 708.3,149.6 708.9,150.3 709.6,151.1 710.3,153.2 710.9,153.4 711.6,154.8 712.3,154.7 713.1,155.9 713.8,156.5 714.5,158.9 715.3,159.5 716.1,159.5 716.8,162.0 717.6,161.5 718.4,162.7 719.3,163.0 720.1,164.1 721.0,166.2 721.9,165.9 722.8,166.3 723.7,167.7 724.6,168.1 725.6,170.1 726.5,169.0 727.5,171.6 728.6,170.2 729.6,172.6 730.6,172.7 731.7,172.2 732.8,173.3 733.9,173.4 735.1,173.8 736.2,174.1 737.4,174.9 738.6,176.7 739.8,177.1 741.0,177.3 742.2,175.8 743.5,176.5 744.7,178.2 746.0,176.6 747.3,178.3 748.6,177.6 749.9,179.3 751.2,177.4 752.6,179.4 753.9,178.5 755.3,178.3 756.6,178.2 758.0,180.1 759.4,179.6 760.8,179.0 762.2,179.7 763.6,180.9 765.0,179.5 766.4,180.4 767.8,179.6 769.2,179.8 770.6,181.2 772.1,181.1 773.5,180.1" fill="none" style="stroke:#ff0080;stroke-opacity:0" marker-start="url(#sq)" marker-mid="url(#sq)" marker-end="url(#sq)"/>
<polyline points="564.6,181.7 565.9,181.7 567.2,182.8 568.5,182.6 569.8,182.1 571.1,181.9 572.4,182.8 573.7,183.0 575.0,183.2 576.3,182.7 577.6,181.9 578.9,181.6 580.2,183.0 581.5,182.3 582.8,182.9 584.1,181.4 585.4,183.0 586.7,181.9 588.0,183.0 589.3,183.0 590.6,182.1 591.9,180.9 593.2,182.8 594.5,181.7 595.8,182.4 597.1,180.9 598.3,180.5 599.6,181.7 600.9,180.4 602.2,179.6 603.4,179.7 604.7,179.8 605.9,178.1 607.1,178.8 608.3,178.1 609.5,177.6 610.7,176.1 611.8,176.8 612.9,176.3 614.0,175.6 615.0,173.6 616.0,173.6 617.0,172.0 617.9,171.9 618.9,169.4 619.8,170.3 620.6,169.4 621.5,167.4 622.3,166.4 623.1,165.4 623.8,164.3 624.6,162.1 625.3,163.1 626.0,160.4 626.7,159.1 627.4,157.8 628.0,157.0 628.7,157.1 629.3,154.2 629.9,153.2 630.5,153.4 631.1,151.1 631.7,149.5 632.3,149.6 632.8,148.4 633.4,147.1 633.9,146.3 634.5,143.8 635.0,144.3 635.5,142.8 636.1,140.1 636.6,139.1 637.1,138.7 637.6,137.5 638.1,135.8 638.6,134.2 639.1,133.7 639.6,131.9 640.1,131.7 640.6,131.0 641.1,128.3 641.5,128.0 642.0,127.2 642.5,124.7 643.0,124.9 643.5,124.0 643.9,121.5 644.4,120.4 644.9,120.1 645.4,118.2 645.9,116.7 646.4,116.7 646.8,115.2 647.3,113.0 647.8,111.6 648.3,110.6 648.8,109.6 649.3,109.6 649.8,108.1 650.4,107.1 650.9,105.7 651.4,104.6 651.9,101.7 652.5,101.6 653.0,101.4 653.6,100.2 654.2,97.5 654.8,96.8 655.4,96.1 656.1,94.4 656.7,93.7 657.4,91.6 658.1,91.3 658.8,90.5 659.6,88.4 660.5,87.7 661.3,88.6 662.3,87.4 663.3,87.0 664.4,85.8 665.6,85.8 666.9,85.8 668.2,86.0 669.5,84.4 670.7,86.2 671.9,85.9 673.0,87.6 674.0,87.4 674.9,88.8 675.9,90.6 676.7,90.8 677.6,90.9 678.4,92.4 679.1,93.2 679.9,95.3 680.6,94.8 681.3,95.9 681.9,97.6 682.6,97.5 683.2,99.5 683.9,101.3 684.5,101.4 685.1,101.9 685.7,103.3 686.3,104.5 686.8,104.7 687.4,105.7 688.0,106.7 688.5,108.1 689.1,109.4 689.6,110.1 690.2,111.1 690.7,111.8 691.3,113.8 691.8,115.5 692.3,116.0 692.8,116.9 693.4,118.1 693.9,118.2 694.4,120.3 694.9,120.8 695.5,122.0 696.0,123.2 696.5,123.9 697.0,124.5 697.5,125.4 698.0,126.3 698.6,128.0 699.1,128.7 699.6,130.1 700.1,129.9 700.6,131.6 701.2,133.7 701.7,133.3 702.2,135.0 702.8,135.8 703.3,136.4 703.8,138.9 704.4,138.3 704.9,140.3 705.5,139.9 706.0,140.7 706.6,143.4 707.1,143.4 707.7,143.5 708.2,145.1 708.8,146.1 709.4,147.7 710.0,147.2 710.6,148.4 711.2,150.9 711.8,151.3 712.4,150.9 713.0,152.1 713.6,153.0 714.2,154.6 714.9,155.3 715.5,156.7 716.2,157.4 716.8,157.6 717.5,158.8 718.2,159.6 718.9,160.5 719.6,160.6 720.3,162.0 721.0,162.6 721.7,163.8 722.5,162.8 723.2,165.1 724.0,163.9 724.8,166.3 725.6,166.5 726.4,167.0 727.2,168.6 728.0,168.4 728.9,168.6 729.7,170.0 730.6,170.8 731.5,170.7 732.4,170.8 733.3,171.4 734.3,171.9 735.2,173.0 736.2,172.5 737.1,173.1 738.1,173.9 739.1,173.9 740.1,174.2 741.2,175.6 742.2,176.1 743.3,175.6 744.3,175.8 745.4,175.6 746.5,176.1 747.6,176.0 748.7,177.3 749.8,177.5 750.9,176.7 752.1,178.7 753.2,177.6 754.3,179.0 755.5,179.2 756.7,179.6 757.9,178.1 759.0,178.8 760.2,180.0 761.4,178.2 762.6,178.4 763.8,179.7 765.0,179.7 766.2,180.7 767.5,180.5 768.7,180.1 769.9,181.3 771.2,180.3 772.4,180.4 773.6,180.9" fill="none" style="stroke:#ff0000;stroke-opacity:0" marker-start="url(#tr)" marker-mid="url(#tr)" marker-end="url(#tr)"/>
<polyline points="564.6,182.4 565.4,182.3 566.2,182.7 567.0,182.3 567.8,183.4 568.6,182.9 569.4,182.6 570.2,181.8 571.0,182.3 571.8,182.4 572.6,182.6 573.4,182.7 574.2,183.2 575.0,183.3 575.8,182.5 576.6,182.4 577.4,182.7 578.2,183.3 579.0,182.1 579.8,182.4 580.6,182.9 581.4,181.7 582.2,182.0 583.0,183.1 583.8,182.8 584.6,182.2 585.4,181.5 586.2,182.8 587.0,182.4 587.8,182.6 588.6,182.8 589.4,182.6 590.2,181.6 591.0,181.1 591.8,181.2 592.6,181.5 593.4,181.4 594.1,180.7 594.9,180.6 595.7,181.2 596.5,181.0 597.3,180.4 598.1,181.4 598.9,180.5 599.6,179.3 600.4,179.7 601.2,180.2 601.9,179.0 602.7,179.5 603.4,178.0 604.2,178.2 604.9,178.8 605.7,178.1 606.4,177.9 607.1,176.6 607.8,176.8 608.5,176.5 609.2,175.6 609.9,175.8 610.5,175.2 611.2,175.5 611.9,174.3 612.5,173.5 613.1,172.5 613.7,172.0 614.3,172.6 614.9,170.8 615.5,170.3 616.1,169.8 616.7,169.9 617.2,169.8 617.8,168.9 618.3,168.6 618.8,166.7 619.3,165.9 619.8,166.7 620.3,165.2 620.8,165.3 621.3,164.0 621.8,163.0 622.2,162.5 622.7,161.6 623.2,162.4 623.6,161.1 624.0,160.0 624.5,159.5 624.9,158.7 625.3,157.4 625.7,158.2 626.1,157.0 626.5,157.0 626.9,155.3 627.3,155.0 627.7,153.6 628.1,152.5 628.5,153.4 628.9,152.6 629.2,150.9 629.6,151.2 630.0,150.3 630.3,148.7 630.7,148.5 631.0,148.4 631.4,146.9 631.7,147.0 632.1,145.0 632.4,144.5 632.8,144.4 633.1,142.8 633.4,142.2 633.8,142.5 634.1,141.0 634.4,140.9 634.8,139.1 635.1,138.3 635.4,137.9 635.7,136.8 636.0,137.5 636.4,135.6 636.7,135.3 637.0,133.8 637.3,133.8 637.6,132.8 637.9,132.1 638.2,130.7 638.5,130.1 638.9,130.6 639.2,129.0 639.5,128.1 639.8,127.2 640.1,126.7 640.4,125.8 640.7,124.7 641.0,125.1 641.3,123.8 641.6,122.7 641.9,123.0 642.2,121.1 642.5,120.7 642.8,121.0 643.1,119.0 643.4,118.8 643.7,118.8 644.0,118.0 644.3,116.1 644.6,115.7 644.9,115.6 645.2,114.3 645.5,114.6 645.9,112.5 646.2,113.1 646.5,111.5 646.8,110.3 647.1,110.0 647.4,108.7 647.7,109.0 648.0,107.4 648.4,107.9 648.7,106.6 649.0,105.4 649.3,104.5 649.7,104.4 650.0,103.0 650.3,103.4 650.7,101.4 651.0,101.4 651.3,100.7 651.7,99.5 652.0,99.7 652.4,98.3 652.7,98.0 653.1,97.2 653.5,96.0 653.8,95.4 654.2,94.2 654.6,93.7 655.0,94.2 655.4,92.6 655.8,92.5 656.2,90.8 656.6,91.0 657.1,89.9 657.5,89.5 658.0,88.5 658.5,87.5 658.9,87.3 659.4,86.6 660.0,85.8 660.5,86.3 661.1,84.9 661.6,84.6 662.2,85.1 662.9,84.4 663.6,84.2 664.2,83.8 665.0,82.2 665.7,82.2 666.5,81.7 667.3,82.8 668.1,82.9 668.9,82.4 669.7,82.7 670.5,83.4 671.2,83.8 671.9,83.3 672.6,84.8 673.3,84.3 673.9,85.2 674.5,84.9 675.1,85.3 675.7,87.2 676.3,87.4 676.8,87.9 677.4,87.2 677.9,87.8 678.4,88.5 678.9,89.2 679.4,89.9 679.9,90.7 680.3,90.6 680.8,91.7 681.2,92.9 681.7,92.7 682.1,94.5 682.5,94.6 682.9,95.4 683.4,95.2 683.8,96.2 684.2,97.2 684.6,97.2 685.0,97.2 685.3,99.3 685.7,99.9 686.1,99.6 686.5,99.8 686.9,101.9 687.2,102.0 687.6,101.7 688.0,102.6 688.3,103.0 688.7,104.9 689.0,104.5 689.4,106.4 689.7,106.7 690.1,106.1 690.4,107.8 690.8,107.9 691.1,109.2 691.5,110.0 691.8,109.6 692.1,109.9 692.5,112.1 692.8,111.8 693.1,113.3 693.5,113.5 693.8,114.2 694.1,115.0 694.5,115.3 694.8,115.6 695.1,115.5 695.5,117.3 695.8,117.4 696.1,118.2 696.4,119.5 696.8,118.7 697.1,120.5 697.4,119.8 697.8,121.6 698.1,122.4 698.4,122.1 698.7,123.2 699.1,124.6 699.4,124.6 699.7,125.1 700.0,125.1 700.4,125.4 700.7,126.6 701.0,127.3 701.3,127.5 701.7,128.3 702.0,128.6 702.3,130.2 702.7,130.8 703.0,130.6 703.3,131.2 703.6,132.3 704.0,132.8 704.3,134.3 704.6,133.8 705.0,134.3 705.3,136.0 705.6,135.2 706.0,136.6 706.3,136.7 706.7,138.2 707.0,138.3 707.3,139.3 707.7,138.8 708.0,140.3 708.4,140.7 708.7,141.1 709.1,142.2 709.4,142.9 709.8,142.2 710.1,143.0 710.5,143.7 710.9,144.0 711.2,144.3 711.6,145.3 711.9,145.7 712.3,147.2 712.7,147.3 713.0,147.2 713.4,148.1 713.8,148.9 714.2,149.3 714.6,149.5 714.9,149.9 715.3,150.3 715.7,152.6 716.1,152.7 716.5,152.0 716.9,153.7 717.3,154.7 717.7,154.4 718.1,154.1 718.5,155.3 718.9,155.7 719.3,155.8 719.7,156.9 720.2,156.4 720.6,158.6 721.0,158.6 721.4,159.0 721.9,160.1 722.3,160.0 722.8,159.8 723.2,160.2 723.7,160.5 724.1,160.8 724.6,162.6 725.0,163.1 725.5,162.6 726.0,162.8 726.5,164.1 726.9,164.9 727.4,165.4 727.9,164.5 728.4,166.0 728.9,166.5 729.4,166.8 729.9,166.4 730.4,166.5 731.0,168.1 731.5,167.5 732.0,168.0 732.6,168.7 733.1,168.7 733.6,169.9 734.2,169.2 734.7,169.2 735.3,170.5 735.9,170.9 736.4,171.6 737.0,171.7 737.6,172.4 738.2,172.7 738.8,172.2 739.4,172.5 740.0,172.2 740.6,172.7 741.2,173.5 741.8,172.8 742.5,174.2 743.1,173.5 743.7,174.3 744.4,175.4 745.0,174.1 745.7,174.2 746.3,175.2 747.0,174.9 747.6,176.1 748.3,175.0 749.0,176.7 749.6,176.9 750.3,177.0 751.0,176.5 751.7,176.4 752.4,177.3 753.1,177.2 753.8,177.2 754.5,177.2 755.2,177.5 755.9,178.1 756.6,178.5 757.3,178.8 758.0,177.6 758.8,177.9 759.5,178.3 760.2,178.7 760.9,178.4 761.7,178.2 762.4,178.1 763.1,178.7 763.9,179.0 764.6,180.0 765.4,180.0 766.1,180.1 766.9,180.3 767.6,180.4 768.4,179.9 769.1,180.3 769.9,179.0 770.6,180.2 771.4,180.2 772.2,179.7 772.9,180.3 773.7,181.0" fill="none" style="stroke:#ff8000;stroke-opacity:0" marker-start="url(#tr2)" marker-mid="url(#tr2)" marker-end="url(#tr2)"/>
<rect x="561.6" y="12.8" width="213.0" height="183.39999999999998" fill="none" stroke="#000" stroke-width="1.5"/>
<line x1="556.8000000000001" y1="26.2" x2="561.6" y2="26.2" stroke="#000" stroke-width="1.3" />
<line x1="556.8000000000001" y1="52.32" x2="561.6" y2="52.32" stroke="#000" stroke-width="1.3" />
<line x1="556.8000000000001" y1="78.44" x2="561.6" y2="78.44" stroke="#000" stroke-width="1.3" />
<line x1="556.8000000000001" y1="104.56" x2="561.6" y2="104.56" stroke="#000" stroke-width="1.3" />
<line x1="556.8000000000001" y1="130.68" x2="561.6" y2="130.68" stroke="#000" stroke-width="1.3" />
<line x1="556.8000000000001" y1="156.79999999999998" x2="561.6" y2="156.79999999999998" stroke="#000" stroke-width="1.3" />
<line x1="556.8000000000001" y1="182.92" x2="561.6" y2="182.92" stroke="#000" stroke-width="1.3" />
<line x1="582.6" y1="196.2" x2="582.6" y2="199.79999999999998" stroke="#000" stroke-width="1.3" />
<text x="582.6" y="208.8" font-size="9" font-weight="bold" text-anchor="middle" fill="#000" textLength="15" lengthAdjust="spacingAndGlyphs" >350</text>
<line x1="625.2" y1="196.2" x2="625.2" y2="199.79999999999998" stroke="#000" stroke-width="1.3" />
<text x="625.2" y="208.8" font-size="9" font-weight="bold" text-anchor="middle" fill="#000" textLength="15" lengthAdjust="spacingAndGlyphs" >400</text>
<line x1="667.8000000000001" y1="196.2" x2="667.8000000000001" y2="199.79999999999998" stroke="#000" stroke-width="1.3" />
<text x="667.8000000000001" y="208.8" font-size="9" font-weight="bold" text-anchor="middle" fill="#000" textLength="15" lengthAdjust="spacingAndGlyphs" >450</text>
<line x1="710.4" y1="196.2" x2="710.4" y2="199.79999999999998" stroke="#000" stroke-width="1.3" />
<text x="710.4" y="208.8" font-size="9" font-weight="bold" text-anchor="middle" fill="#000" textLength="15" lengthAdjust="spacingAndGlyphs" >500</text>
<line x1="753.0" y1="196.2" x2="753.0" y2="199.79999999999998" stroke="#000" stroke-width="1.3" />
<text x="753.0" y="208.8" font-size="9" font-weight="bold" text-anchor="middle" fill="#000" textLength="15" lengthAdjust="spacingAndGlyphs" >550</text>
<text x="618.8" y="226.8" font-size="13" font-weight="bold" text-anchor="start" fill="#000" textLength="98" lengthAdjust="spacingAndGlyphs" >Wavelength(nm)</text>
<text x="547.6" y="163.6" font-size="12.5" font-weight="bold" text-anchor="start" fill="#000" textLength="101" lengthAdjust="spacingAndGlyphs" transform="rotate(-90 547.6 163.6)" >PL Intensity(a.u.)</text>
<text x="529.5" y="27" font-size="24" font-weight="bold" text-anchor="start" fill="#000" >c</text>
<text x="734.4" y="62.8" font-size="15" font-weight="bold" text-anchor="start" fill="#000" textLength="28.4" lengthAdjust="spacingAndGlyphs" >77K</text>
<text x="728.8" y="137" font-size="15" font-weight="bold" text-anchor="start" fill="#000" textLength="36.4" lengthAdjust="spacingAndGlyphs" >297K</text>
<path d="M745.3,71.6 L759.3,85.6 L752,85.6 L752,111.6 L737.8,111.6 L737.8,85.6 L731.4,85.6 Z" fill="url(#ag)"/>
<circle cx="58.6" cy="406" r="3.9" fill="url(#ball)"/>
<circle cx="62.6" cy="401" r="3.9" fill="url(#ball)"/>
<circle cx="68" cy="398.8" r="3.9" fill="url(#ball)"/>
<circle cx="73.6" cy="397.4" r="3.9" fill="url(#ball)"/>
<circle cx="80.9" cy="388.8" r="3.9" fill="url(#ball)"/>
<circle cx="88.8" cy="359.6" r="3.9" fill="url(#ball)"/>
<circle cx="99" cy="316.8" r="3.9" fill="url(#ball)"/>
<circle cx="111.4" cy="312.9" r="3.9" fill="url(#ball)"/>
<circle cx="128" cy="311" r="3.9" fill="url(#ball)"/>
<circle cx="150.3" cy="297.4" r="3.9" fill="url(#ball)"/>
<circle cx="181.7" cy="273.5" r="3.9" fill="url(#ball)"/>
<circle cx="229.4" cy="256.2" r="3.9" fill="url(#ball)"/>
<path d="M73.5,397.5C74.1,396.0 75.8,391.7 77.0,388.5C78.2,385.3 79.7,381.8 81.0,378.5C82.3,375.2 83.7,371.6 85.0,368.5C86.3,365.4 87.5,363.2 89.0,360.0C90.5,356.8 92.4,352.8 94.0,349.5C95.6,346.2 96.7,343.2 98.4,340.0C100.1,336.8 101.7,334.0 104.0,330.0C106.3,326.0 109.3,320.2 112.5,315.8C115.7,311.4 119.7,307.5 123.3,303.9C126.9,300.3 130.4,296.9 134.0,294.0C137.6,291.1 141.4,288.6 144.9,286.5C148.4,284.4 151.4,283.1 155.0,281.5C158.6,279.9 162.9,278.4 166.6,277.2C170.3,276.0 173.4,275.1 177.0,274.2C180.6,273.3 184.5,272.5 188.2,271.8C191.9,271.1 195.4,270.4 199.0,269.8C202.6,269.2 206.4,268.5 209.9,268.1C213.4,267.7 216.7,267.4 220.0,267.2C223.3,266.9 228.2,266.7 229.8,266.6" fill="none" stroke="#ff0000" stroke-width="2.2"/>
<rect x="34.7" y="242.3" width="212.7" height="182.89999999999998" fill="none" stroke="#000" stroke-width="1.5"/>
<line x1="30.1" y1="256.7" x2="34.7" y2="256.7" stroke="#000" stroke-width="1.3" />
<line x1="30.1" y1="284.78" x2="34.7" y2="284.78" stroke="#000" stroke-width="1.3" />
<line x1="30.1" y1="312.86" x2="34.7" y2="312.86" stroke="#000" stroke-width="1.3" />
<line x1="30.1" y1="340.94" x2="34.7" y2="340.94" stroke="#000" stroke-width="1.3" />
<line x1="30.1" y1="369.02" x2="34.7" y2="369.02" stroke="#000" stroke-width="1.3" />
<line x1="30.1" y1="397.09999999999997" x2="34.7" y2="397.09999999999997" stroke="#000" stroke-width="1.3" />
<line x1="34.7" y1="425.2" x2="34.7" y2="429.0" stroke="#000" stroke-width="1.3" />
<text x="34.7" y="438" font-size="9" font-weight="bold" text-anchor="middle" fill="#000" textLength="22.8" lengthAdjust="spacingAndGlyphs" >0.002</text>
<line x1="70.15" y1="425.2" x2="70.15" y2="429.0" stroke="#000" stroke-width="1.3" />
<text x="70.15" y="438" font-size="9" font-weight="bold" text-anchor="middle" fill="#000" textLength="22.8" lengthAdjust="spacingAndGlyphs" >0.004</text>
<line x1="105.60000000000001" y1="425.2" x2="105.60000000000001" y2="429.0" stroke="#000" stroke-width="1.3" />
<text x="105.60000000000001" y="438" font-size="9" font-weight="bold" text-anchor="middle" fill="#000" textLength="22.8" lengthAdjust="spacingAndGlyphs" >0.006</text>
<line x1="141.05" y1="425.2" x2="141.05" y2="429.0" stroke="#000" stroke-width="1.3" />
<text x="141.05" y="438" font-size="9" font-weight="bold" text-anchor="middle" fill="#000" textLength="22.8" lengthAdjust="spacingAndGlyphs" >0.008</text>
<line x1="176.5" y1="425.2" x2="176.5" y2="429.0" stroke="#000" stroke-width="1.3" />
<text x="176.5" y="438" font-size="9" font-weight="bold" text-anchor="middle" fill="#000" textLength="22.8" lengthAdjust="spacingAndGlyphs" >0.010</text>
<line x1="211.95" y1="425.2" x2="211.95" y2="429.0" stroke="#000" stroke-width="1.3" />
<text x="211.95" y="438" font-size="9" font-weight="bold" text-anchor="middle" fill="#000" textLength="22.8" lengthAdjust="spacingAndGlyphs" >0.012</text>
<line x1="247.40000000000003" y1="425.2" x2="247.40000000000003" y2="429.0" stroke="#000" stroke-width="1.3" />
<text x="247.40000000000003" y="438" font-size="9" font-weight="bold" text-anchor="middle" fill="#000" textLength="22.8" lengthAdjust="spacingAndGlyphs" >0.014</text>
<text x="119" y="457.5" font-size="13" font-weight="bold">1/T(K<tspan font-size="8" dy="-5">-1</tspan><tspan dy="5">)</tspan></text>
<text x="22.3" y="382" font-size="13" font-weight="bold" text-anchor="start" fill="#000" textLength="80" lengthAdjust="spacingAndGlyphs" transform="rotate(-90 22.3 382)" >Intensity(a.u.)</text>
<text x="7.2" y="255" font-size="24" font-weight="bold" text-anchor="start" fill="#000" >d</text>
<circle cx="179.8" cy="401.7" r="3.9" fill="url(#ball)"/>
<text x="191.7" y="404.7" font-size="9" font-weight="bold" text-anchor="start" fill="#000" textLength="19" lengthAdjust="spacingAndGlyphs" >data</text>
<line x1="169.2" y1="413.7" x2="189.7" y2="413.7" stroke="#ff0000" stroke-width="2.2" />
<text x="191.7" y="416.2" font-size="9" font-weight="bold" text-anchor="start" fill="#000" textLength="48.3" lengthAdjust="spacingAndGlyphs" >Fitting line</text>
<polyline points="305.4,301.5 305.6,262.0 306.5,265.8 305.3,267.0 308.4,267.1 308.3,268.0 305.0,270.0 310.0,269.3 306.1,271.2 308.2,271.6 311.4,271.6 306.9,273.7 309.5,273.9 308.0,275.2 309.6,275.6 308.8,276.7 308.8,277.6 310.4,278.0 312.9,278.1 312.6,279.1 307.0,281.6 310.0,281.6 313.8,281.3 307.9,283.9 313.1,283.2 314.6,283.6 311.3,285.5 313.8,285.6 312.1,287.0 311.8,287.9 314.7,287.9 312.1,289.5 316.1,289.1 313.0,290.9 312.7,291.9 317.0,291.3 314.6,292.9 317.5,292.8 314.8,294.5 311.6,296.4 314.4,296.4 313.3,297.6 313.2,298.4 318.6,297.5 311.9,300.6 314.2,300.6 319.4,299.6 313.9,302.4 317.6,301.9 319.6,302.0 313.6,305.0 317.0,304.6 315.6,305.9 320.9,304.8 316.1,307.4 322.0,306.0 320.8,307.3 320.0,308.4 323.1,308.1 318.8,310.5 322.1,310.0 321.6,311.0 318.7,312.9 321.2,312.8 317.8,314.9 320.2,314.8 318.5,316.2 321.2,316.0 318.7,317.8 319.3,318.3 325.0,316.8 320.8,319.3 324.2,318.7 321.2,320.7 322.2,321.2 321.3,322.3 327.0,320.7 325.3,322.2 322.8,324.0 321.5,325.4 323.5,325.3 329.0,323.7 325.0,326.3 329.1,325.2 326.0,327.4 324.4,328.9 329.8,327.2 324.0,330.6 326.2,330.4 329.6,329.6 330.4,330.0 328.8,331.5 326.2,333.5 328.4,333.2 332.1,332.2 333.1,332.5 332.8,333.4 328.0,336.5 332.8,334.9 330.4,336.9 332.6,336.5 330.0,338.6 332.6,338.0 334.6,337.7 329.6,341.1 332.4,340.4 331.6,341.6 331.1,342.7 330.4,343.8 337.4,340.7 335.4,342.6 337.0,342.4 334.9,344.4 332.6,346.5 333.4,346.7 339.1,344.2 338.4,345.3 334.3,348.5 335.6,348.5 337.9,347.9 337.7,348.8 340.2,348.0 335.8,351.5 339.2,350.1 336.3,352.7 338.4,352.1 342.4,350.3 341.0,351.9 342.1,352.0 337.9,355.5 340.3,354.7 344.3,352.7 343.8,353.8 342.9,355.2 342.5,356.2 342.2,357.2 343.7,356.8 344.3,357.2 346.9,356.1 343.6,359.3 345.5,358.6 347.9,357.6 345.4,360.2 342.5,363.2 348.8,359.1 348.5,360.1 345.6,363.1 348.4,361.6 348.8,362.1 347.8,363.7 349.6,363.0 348.1,365.0 348.7,365.2 346.5,367.9 346.7,368.5 352.8,364.1 350.1,367.2 349.2,368.8 349.0,369.8 350.0,369.7 351.2,369.4 351.6,369.8 353.6,368.8 354.4,368.8 351.9,372.0 351.8,372.8 351.9,373.6 353.7,372.6 356.2,371.0 354.1,373.9 354.6,374.2 356.3,373.3 356.0,374.4 358.0,373.2 357.3,374.7 358.5,374.3 360.7,372.7 359.7,374.7 360.2,375.0 357.1,379.2 360.2,376.6 361.2,376.3 362.2,376.0 362.7,376.3 362.5,377.3 364.0,376.4 365.0,376.0 361.2,381.5 363.7,379.4 364.1,379.7 364.0,380.7 365.7,379.5 366.7,379.0 367.6,378.7 366.9,380.5 367.3,380.8 365.9,383.7 367.1,383.0 365.8,385.7 368.9,382.3 366.8,386.2 368.7,384.4 371.4,381.6 371.4,382.5 370.1,385.3 368.8,388.2 371.9,384.5 370.6,387.5 372.5,385.5 371.2,388.6 374.9,383.8 373.6,386.7 372.5,389.7 375.4,386.0 375.9,386.1 377.2,384.8 377.1,386.0 377.2,387.0 376.0,390.1 378.3,387.2 378.0,388.6 379.2,387.5 378.2,390.4 377.8,392.4 379.0,391.2 381.0,388.5 379.7,392.3 379.4,394.1 381.1,391.9 383.2,388.6 381.3,393.7 381.6,394.4 383.8,391.1 384.9,389.9 385.2,390.5 384.6,393.0 384.0,395.5 385.2,394.2 384.8,396.3 387.4,391.7 387.5,392.7 386.8,395.7 387.6,395.2 388.7,393.8 388.5,395.8 389.9,393.7 391.1,392.0 390.6,394.6 392.1,392.3 391.0,396.4 392.2,394.6 392.3,395.9 392.5,396.8 393.9,394.6 393.8,396.2 395.4,393.3 393.7,399.7 395.0,397.4 394.5,400.5 397.2,394.3 396.4,398.3 396.6,399.2 398.0,396.6 399.0,395.2 399.3,395.7 399.8,395.8 399.0,400.2 400.9,395.7 399.9,400.8 401.2,398.3 401.4,399.2 401.8,399.7 402.4,399.6 402.7,400.5 403.3,400.2 404.3,398.5 404.0,401.5 405.4,398.3 405.0,401.5 405.4,402.0 405.9,402.2 407.2,399.1 406.9,402.4 407.1,404.0 408.4,400.5 409.2,399.4 409.3,401.2 409.1,404.2 410.9,398.8 411.6,398.0 411.3,401.3 411.6,402.7 411.9,403.6 413.0,400.9 412.6,405.3 414.2,400.2 413.9,403.9 415.3,399.4 415.9,399.1 416.2,399.9 416.8,399.5 416.7,402.6 417.2,403.1 418.1,400.7 417.7,405.9 418.9,402.1 419.6,400.7 420.1,401.0 419.9,404.9 420.2,406.2 421.6,401.1 422.2,400.3 421.9,405.5 423.0,401.9 422.6,407.0 423.7,403.8 424.0,404.8 424.8,403.0 424.8,406.1 425.7,403.9 426.3,403.0 426.2,407.0 427.5,401.7 427.4,406.0 428.6,401.6 428.5,405.6 429.2,404.0 429.3,407.2 430.5,401.8 430.6,405.3 431.2,404.3 431.3,407.8 431.7,408.1 432.5,406.0 433.3,403.3 433.8,403.6 434.3,403.7 434.7,404.9 435.3,403.6 435.8,403.5 435.9,407.3 436.5,406.6 437.2,404.3 437.2,409.0 438.3,403.8 438.5,406.3 439.3,403.5 439.3,408.4 439.8,408.5 440.7,404.4 440.9,407.8 441.4,408.3 442.2,404.7 442.7,405.1 443.1,406.2 443.3,409.0 444.3,404.1 444.5,407.6 445.0,407.1 445.6,406.2 446.0,407.1 446.3,409.2 447.2,404.7 447.3,409.3 448.1,405.8 448.4,408.6 448.9,409.3 449.7,404.7 449.9,409.3 450.3,410.3 451.2,405.6 451.8,403.8 452.3,404.4 452.3,410.3 453.3,403.8 453.4,409.9 454.2,404.8 454.4,408.8 455.2,404.5 455.7,405.0 456.0,408.5 456.7,404.6 457.1,406.3 457.4,410.2 458.0,408.9 458.4,410.1 458.8,410.8 459.7,404.4 460.2,405.8 460.4,409.6 461.0,408.9 461.7,404.5 462.0,407.7 462.6,405.9 463.1,407.3 463.7,405.1 464.2,404.5 464.4,411.1 465.1,406.6 465.4,410.4 466.2,405.3 466.5,407.8 467.2,405.5 467.6,407.5 468.1,405.8 468.5,409.3 469.1,405.7 469.5,409.7 470.0,408.1 470.7,405.5 471.1,407.1 471.5,408.1 471.9,411.0 472.6,407.2 473.1,406.3 473.4,411.4 473.9,410.9 474.5,409.9 475.1,406.8 475.6,406.1 476.1,406.7 476.6,405.4 477.1,405.3 477.5,408.5 478.1,407.8 478.5,408.8 479.1,407.5 479.6,405.1 480.0,409.8 480.5,409.5 481.0,408.8 481.5,408.9 482.0,409.9 482.4,411.9 482.9,411.1 483.5,410.1 484.0,407.9 484.6,407.4 485.0,408.1 485.4,411.9 486.1,407.9 486.6,407.9 487.0,408.1 487.6,406.3 487.9,412.1 488.6,405.4 489.0,409.5 489.4,411.7 490.1,407.1 490.5,409.6 491.0,408.0 491.6,407.1 492.1,406.8 492.6,406.3 493.0,411.2 493.5,410.8 494.0,411.7 494.6,405.9 495.0,410.2 495.6,407.7 496.0,409.9 496.5,409.3 497.1,407.7 497.5,412.2 498.1,405.6 498.5,410.7 499.0,411.4 499.5,409.1 500.0,409.7 500.5,412.4 501.1,407.3 501.5,409.9 502.0,410.7 502.5,408.3 503.0,410.5 503.5,408.4 504.0,409.3 504.5,409.9 505.0,410.3 505.5,407.9 506.0,410.0 506.5,409.5 507.1,407.3 507.5,409.9 508.1,407.6 508.5,412.0 509.0,409.0 509.5,410.7 510.0,409.4 510.5,409.1 511.1,407.3 511.6,406.8 512.0,412.2 512.5,409.4 513.0,409.4 513.5,409.5 514.0,411.4 514.5,407.5 515.1,407.1 515.5,411.5 516.0,409.0 516.5,410.3" fill="none" stroke="#1ea0ff" stroke-width="0.5" marker-mid="url(#esq)"/>
<polyline points="304.6,263.8 306.6,271.4 308.6,278.7 310.6,285.5 312.6,292.1 314.6,298.2 316.6,304.1 318.6,309.6 320.6,314.8 322.6,319.8 324.6,324.5 326.6,329.0 328.6,333.2 330.6,337.2 332.6,341.0 334.6,344.6 336.6,348.0 338.6,351.3 340.6,354.3 342.6,357.2 344.6,360.0 346.6,362.6 348.6,365.1 350.6,367.4 352.6,369.6 354.6,371.7 356.6,373.7 358.6,375.6 360.6,377.4 362.6,379.1 364.6,380.7 366.6,382.2 368.6,383.7 370.6,385.0 372.6,386.3 374.6,387.6 376.6,388.7 378.6,389.8 380.6,390.9 382.6,391.9 384.6,392.8 386.6,393.7 388.6,394.5 390.6,395.3 392.6,396.1 394.6,396.8 396.6,397.5 398.6,398.1 400.6,398.7 402.6,399.3 404.6,399.9 406.6,400.4 408.6,400.9 410.6,401.4 412.6,401.8 414.6,402.2 416.6,402.6 418.6,403.0 420.6,403.3 422.6,403.7 424.6,404.0 426.6,404.3 428.6,404.6 430.6,404.9 432.6,405.1 434.6,405.4 436.6,405.6 438.6,405.8 440.6,406.0 442.6,406.2 444.6,406.4 446.6,406.6 448.6,406.8 450.6,406.9 452.6,407.1 454.6,407.2 456.6,407.3 458.6,407.5 460.6,407.6 462.6,407.7 464.6,407.8 466.6,407.9 468.6,408.0 470.6,408.1 472.6,408.2 474.6,408.3 476.6,408.4 478.6,408.4 480.6,408.5 482.6,408.6 484.6,408.6 486.6,408.7 488.6,408.8 490.6,408.8 492.6,408.9 494.6,408.9 496.6,409.0 498.6,409.0 500.6,409.0 502.6,409.1 504.6,409.1 506.6,409.2 508.6,409.2 510.6,409.2 512.6,409.3 514.6,409.3 516.6,409.3" fill="none" stroke="#e8001c" stroke-width="2.2"/>
<rect x="304.6" y="241.8" width="212.60000000000002" height="183.0" fill="none" stroke="#000" stroke-width="1.5"/>
<line x1="304.6" y1="424.8" x2="304.6" y2="428.6" stroke="#000" stroke-width="1.3" />
<text x="304.6" y="439" font-size="10" font-weight="bold" text-anchor="middle" fill="#000" textLength="5.6" lengthAdjust="spacingAndGlyphs" >0</text>
<line x1="340.03000000000003" y1="424.8" x2="340.03000000000003" y2="428.6" stroke="#000" stroke-width="1.3" />
<text x="340.03000000000003" y="439" font-size="10" font-weight="bold" text-anchor="middle" fill="#000" textLength="23" lengthAdjust="spacingAndGlyphs" >1000</text>
<line x1="375.46000000000004" y1="424.8" x2="375.46000000000004" y2="428.6" stroke="#000" stroke-width="1.3" />
<text x="375.46000000000004" y="439" font-size="10" font-weight="bold" text-anchor="middle" fill="#000" textLength="23" lengthAdjust="spacingAndGlyphs" >2000</text>
<line x1="410.89" y1="424.8" x2="410.89" y2="428.6" stroke="#000" stroke-width="1.3" />
<text x="410.89" y="439" font-size="10" font-weight="bold" text-anchor="middle" fill="#000" textLength="23" lengthAdjust="spacingAndGlyphs" >3000</text>
<line x1="446.32000000000005" y1="424.8" x2="446.32000000000005" y2="428.6" stroke="#000" stroke-width="1.3" />
<text x="446.32000000000005" y="439" font-size="10" font-weight="bold" text-anchor="middle" fill="#000" textLength="23" lengthAdjust="spacingAndGlyphs" >4000</text>
<line x1="481.75" y1="424.8" x2="481.75" y2="428.6" stroke="#000" stroke-width="1.3" />
<text x="481.75" y="439" font-size="10" font-weight="bold" text-anchor="middle" fill="#000" textLength="23" lengthAdjust="spacingAndGlyphs" >5000</text>
<line x1="517.1800000000001" y1="424.8" x2="517.1800000000001" y2="428.6" stroke="#000" stroke-width="1.3" />
<text x="517.1800000000001" y="439" font-size="10" font-weight="bold" text-anchor="middle" fill="#000" textLength="23" lengthAdjust="spacingAndGlyphs" >6000</text>
<text x="384.8" y="454.8" font-size="13" font-weight="bold" text-anchor="start" fill="#000" textLength="52" lengthAdjust="spacingAndGlyphs" >Time(ns)</text>
<text x="293.4" y="387.5" font-size="13" font-weight="bold" text-anchor="start" fill="#000" textLength="94" lengthAdjust="spacingAndGlyphs" transform="rotate(-90 293.4 387.5)" >PL intesity(a.u.)</text>
<text x="264.3" y="255" font-size="24" font-weight="bold" text-anchor="start" fill="#000" >e</text>
<line x1="426.4" y1="250.2" x2="446.1" y2="250.2" stroke="#1ea0ff" stroke-width="0.9" />
<rect x="434.9" y="248.9" width="2.6" height="2.6" fill="#fff" stroke="#1ea0ff" stroke-width="0.7"/>
<text x="449.1" y="253.3" font-size="9" font-weight="bold" text-anchor="start" fill="#000" textLength="51.5" lengthAdjust="spacingAndGlyphs" >Experiment</text>
<line x1="426.4" y1="262.9" x2="446.1" y2="262.9" stroke="#e8001c" stroke-width="2.2" />
<text x="449.1" y="266" font-size="9" font-weight="bold" text-anchor="start" fill="#000" textLength="58.2" lengthAdjust="spacingAndGlyphs" >Fitting Curve</text>
<text x="401.6" y="356.8" font-size="8" font-weight="bold" textLength="10.6" lengthAdjust="spacingAndGlyphs">τ≈</text>
<text x="412.6" y="356.8" font-size="10" font-weight="bold" textLength="37" lengthAdjust="spacingAndGlyphs">1047 ns</text>
<rect x="557.6" y="244.6" width="223.0" height="184.6" fill="none" stroke="#111" stroke-width="1.1"/>
<polyline points="593.7,294.5 598.4,299.3 603.1,303.6 607.8,307.6 612.5,311.1 617.2,314.2 622.0,317.0 626.7,319.3 631.4,321.2 636.1,322.7 640.8,323.8 645.5,324.5 650.2,324.8 654.9,324.7 659.6,324.2 664.3,323.2 669.0,321.9 673.7,320.1 678.5,318.0 683.2,315.4 687.9,312.5 692.6,309.1 697.3,305.3 702.0,301.2 706.7,296.6" fill="none" stroke="#00b0f0" stroke-width="2.8" stroke-linecap="round"/>
<polyline points="657.5,322.7 659.8,325.0 662.1,327.1 664.4,329.0 666.8,330.7 669.1,332.2 671.4,333.6 673.7,334.7 676.0,335.7 678.3,336.4 680.6,337.0 682.9,337.4 685.2,337.6 687.6,337.6 689.9,337.4 692.2,337.0 694.5,336.4 696.8,335.7 699.1,334.7 701.4,333.6 703.8,332.2 706.1,330.7 708.4,329.0 710.7,327.1 713.0,325.0" fill="none" stroke="#00b0f0" stroke-width="2.8" stroke-linecap="round"/>
<polyline points="593.7,380.4 598.4,385.0 603.1,389.1 607.8,392.9 612.5,396.3 617.2,399.3 622.0,401.9 626.7,404.1 631.4,405.9 636.1,407.4 640.8,408.4 645.5,409.1 650.2,409.4 654.9,409.3 659.6,408.8 664.3,407.9 669.0,406.6 673.7,404.9 678.5,402.9 683.2,400.4 687.9,397.6 692.6,394.4 697.3,390.8 702.0,386.8 706.7,382.4" fill="none" stroke="#00aa00" stroke-width="2.8" stroke-linecap="round"/>
<line x1="651.2" y1="409.4" x2="651.2" y2="332" stroke="#ff0000" stroke-width="2.4" />
<path d="M651.2,325.2 L655.3,333.4 L647.1,333.4 Z" fill="#ff0000"/>
<line x1="686.4" y1="338" x2="686.4" y2="383.5" stroke="#ff0000" stroke-width="2.4" />
<path d="M686.4,390 L690.5,381.8 L682.3,381.8 Z" fill="#ff0000"/>
<path d="M651.2,315.6 C668,315.6 686.4,316.5 686.4,329.5" fill="none" stroke="#ff0000" stroke-width="2.4"/>
<path d="M686.4,336.6 L690.5,328.4 L682.3,328.4 Z" fill="#ff0000"/>
<text x="571" y="272.5" font-size="13.5" font-weight="bold" text-anchor="start" fill="#000" textLength="47.8" lengthAdjust="spacingAndGlyphs" >Excited</text>
<text x="578.6" y="289.5" font-size="13.5" font-weight="bold" text-anchor="start" fill="#000" textLength="32.3" lengthAdjust="spacingAndGlyphs" >state</text>
<text x="695" y="331.8" font-size="13" font-weight="bold" text-anchor="start" fill="#000" textLength="81" lengthAdjust="spacingAndGlyphs" >Excited state</text>
<text x="690.4" y="347" font-size="13" font-weight="bold" text-anchor="start" fill="#000" textLength="90" lengthAdjust="spacingAndGlyphs" >reorganization</text>
<text x="567.8" y="405.1" font-size="13.5" font-weight="bold" text-anchor="start" fill="#000" textLength="47.4" lengthAdjust="spacingAndGlyphs" >Ground</text>
<text x="576.4" y="420.6" font-size="13.5" font-weight="bold" text-anchor="start" fill="#000" textLength="30.8" lengthAdjust="spacingAndGlyphs" >state</text>
<text x="633" y="452.7" font-size="13" font-weight="bold" text-anchor="start" fill="#000" textLength="69.4" lengthAdjust="spacingAndGlyphs" >Coordinate</text>
<text x="545" y="351.5" font-size="13" font-weight="bold" text-anchor="start" fill="#000" textLength="43.5" lengthAdjust="spacingAndGlyphs" transform="rotate(-90 545 351.5)" >Energy</text>
<text x="529.2" y="255.3" font-size="24" font-weight="bold" text-anchor="start" fill="#000" >f</text>
</svg>
</body></html>
